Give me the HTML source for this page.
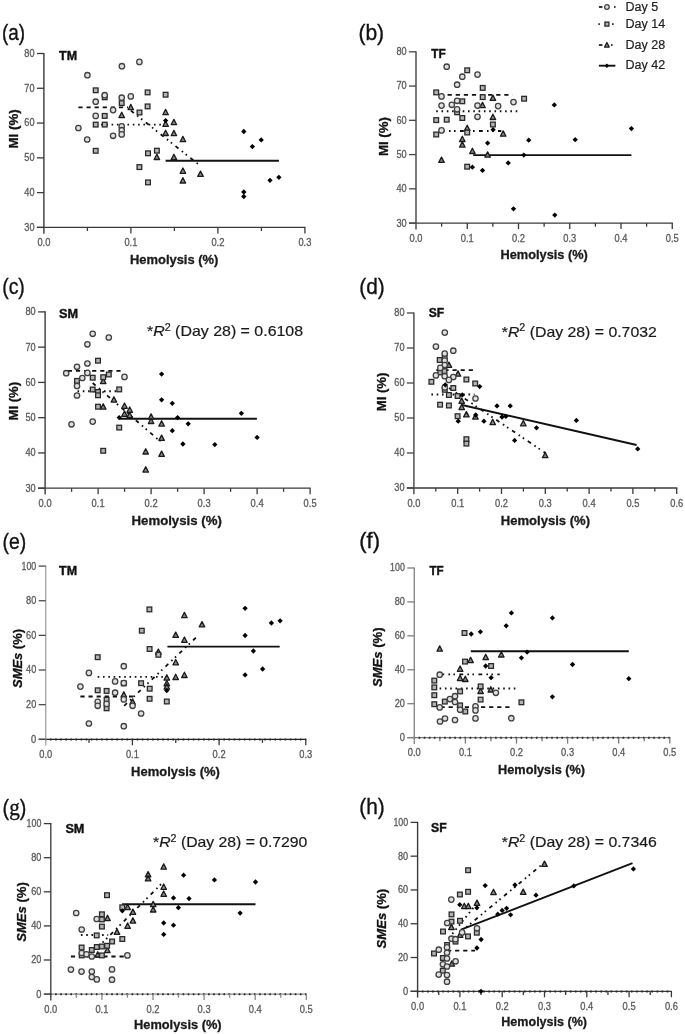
<!DOCTYPE html>
<html><head><meta charset="utf-8"><title>Figure</title>
<style>html,body{margin:0;padding:0;background:#fff;}svg{display:block;will-change:transform;}</style>
</head><body>
<svg width="685" height="1034" viewBox="0 0 685 1034" font-family='"Liberation Sans", sans-serif'>
<rect width="685" height="1034" fill="#fff"/>
<line x1="36.9" y1="227.4" x2="305.5" y2="227.4" stroke="#3a3a3a" stroke-width="1.3"/>
<line x1="43.9" y1="52.9" x2="43.9" y2="233.7" stroke="#3a3a3a" stroke-width="1.4"/>
<line x1="36.9" y1="227.4" x2="43.9" y2="227.4" stroke="#3a3a3a" stroke-width="1.3"/>
<text x="34.5" y="230.8" text-anchor="end" font-size="10.5" fill="#5a5a5a" stroke="#5a5a5a" stroke-width="0.3" textLength="10.2" lengthAdjust="spacingAndGlyphs">30</text>
<line x1="36.9" y1="192.62" x2="43.9" y2="192.62" stroke="#3a3a3a" stroke-width="1.3"/>
<text x="34.5" y="196.02" text-anchor="end" font-size="10.5" fill="#5a5a5a" stroke="#5a5a5a" stroke-width="0.3" textLength="10.2" lengthAdjust="spacingAndGlyphs">40</text>
<line x1="36.9" y1="157.84" x2="43.9" y2="157.84" stroke="#3a3a3a" stroke-width="1.3"/>
<text x="34.5" y="161.24" text-anchor="end" font-size="10.5" fill="#5a5a5a" stroke="#5a5a5a" stroke-width="0.3" textLength="10.2" lengthAdjust="spacingAndGlyphs">50</text>
<line x1="36.9" y1="123.06" x2="43.9" y2="123.06" stroke="#3a3a3a" stroke-width="1.3"/>
<text x="34.5" y="126.46" text-anchor="end" font-size="10.5" fill="#5a5a5a" stroke="#5a5a5a" stroke-width="0.3" textLength="10.2" lengthAdjust="spacingAndGlyphs">60</text>
<line x1="36.9" y1="88.28" x2="43.9" y2="88.28" stroke="#3a3a3a" stroke-width="1.3"/>
<text x="34.5" y="91.68" text-anchor="end" font-size="10.5" fill="#5a5a5a" stroke="#5a5a5a" stroke-width="0.3" textLength="10.2" lengthAdjust="spacingAndGlyphs">70</text>
<line x1="36.9" y1="53.5" x2="43.9" y2="53.5" stroke="#3a3a3a" stroke-width="1.3"/>
<text x="34.5" y="56.9" text-anchor="end" font-size="10.5" fill="#5a5a5a" stroke="#5a5a5a" stroke-width="0.3" textLength="10.2" lengthAdjust="spacingAndGlyphs">80</text>
<line x1="87.4" y1="227.4" x2="87.4" y2="231" stroke="#3a3a3a" stroke-width="1.3"/>
<line x1="130.9" y1="227.4" x2="130.9" y2="233.4" stroke="#3a3a3a" stroke-width="1.3"/>
<line x1="174.4" y1="227.4" x2="174.4" y2="231" stroke="#3a3a3a" stroke-width="1.3"/>
<line x1="217.9" y1="227.4" x2="217.9" y2="233.4" stroke="#3a3a3a" stroke-width="1.3"/>
<line x1="261.4" y1="227.4" x2="261.4" y2="231" stroke="#3a3a3a" stroke-width="1.3"/>
<line x1="304.9" y1="227.4" x2="304.9" y2="233.4" stroke="#3a3a3a" stroke-width="1.3"/>
<text x="43.9" y="245.9" text-anchor="middle" font-size="10.5" fill="#5a5a5a" stroke="#5a5a5a" stroke-width="0.3" textLength="13" lengthAdjust="spacingAndGlyphs">0.0</text>
<text x="130.9" y="245.9" text-anchor="middle" font-size="10.5" fill="#5a5a5a" stroke="#5a5a5a" stroke-width="0.3" textLength="13" lengthAdjust="spacingAndGlyphs">0.1</text>
<text x="217.9" y="245.9" text-anchor="middle" font-size="10.5" fill="#5a5a5a" stroke="#5a5a5a" stroke-width="0.3" textLength="13" lengthAdjust="spacingAndGlyphs">0.2</text>
<text x="304.9" y="245.9" text-anchor="middle" font-size="10.5" fill="#5a5a5a" stroke="#5a5a5a" stroke-width="0.3" textLength="13" lengthAdjust="spacingAndGlyphs">0.3</text>
<line x1="78.4" y1="107.3" x2="128" y2="107.3" stroke="#111" stroke-width="1.8" stroke-dasharray="4.2 3.9"/>
<line x1="95.7" y1="124.6" x2="165.6" y2="124.6" stroke="#111" stroke-width="1.9" stroke-dasharray="1.6 3.7"/>
<line x1="130.9" y1="110.6" x2="200" y2="165.6" stroke="#111" stroke-width="1.8" stroke-dasharray="3.8 4.2 1.6 3.4 1.6 4.4"/>
<line x1="165.6" y1="160.8" x2="278.9" y2="160.8" stroke="#111" stroke-width="1.9"/>
<path d="M121.7 112.3L124.45 117.6L118.95 117.6Z" fill="#858585" stroke="#1a1a1a" stroke-width="1.3" stroke-linejoin="round"/>
<path d="M130.8 104.4L133.55 109.7L128.05 109.7Z" fill="#858585" stroke="#1a1a1a" stroke-width="1.3" stroke-linejoin="round"/>
<path d="M165.6 109.4L168.35 114.7L162.85 114.7Z" fill="#858585" stroke="#1a1a1a" stroke-width="1.3" stroke-linejoin="round"/>
<path d="M165.6 121L168.35 126.3L162.85 126.3Z" fill="#858585" stroke="#1a1a1a" stroke-width="1.3" stroke-linejoin="round"/>
<path d="M173.9 119.4L176.65 124.7L171.15 124.7Z" fill="#858585" stroke="#1a1a1a" stroke-width="1.3" stroke-linejoin="round"/>
<path d="M165.6 130.2L168.35 135.5L162.85 135.5Z" fill="#858585" stroke="#1a1a1a" stroke-width="1.3" stroke-linejoin="round"/>
<path d="M173.9 130.4L176.65 135.7L171.15 135.7Z" fill="#858585" stroke="#1a1a1a" stroke-width="1.3" stroke-linejoin="round"/>
<path d="M182.9 136.4L185.65 141.7L180.15 141.7Z" fill="#858585" stroke="#1a1a1a" stroke-width="1.3" stroke-linejoin="round"/>
<path d="M173.9 154.3L176.65 159.6L171.15 159.6Z" fill="#858585" stroke="#1a1a1a" stroke-width="1.3" stroke-linejoin="round"/>
<path d="M156.9 154.2L159.65 159.5L154.15 159.5Z" fill="#858585" stroke="#1a1a1a" stroke-width="1.3" stroke-linejoin="round"/>
<path d="M182.9 168L185.65 173.3L180.15 173.3Z" fill="#858585" stroke="#1a1a1a" stroke-width="1.3" stroke-linejoin="round"/>
<path d="M182.9 177.7L185.65 183L180.15 183Z" fill="#858585" stroke="#1a1a1a" stroke-width="1.3" stroke-linejoin="round"/>
<path d="M200.5 171.1L203.25 176.4L197.75 176.4Z" fill="#858585" stroke="#1a1a1a" stroke-width="1.3" stroke-linejoin="round"/>
<rect x="93.35" y="87.95" width="4.7" height="4.7" fill="#b4b4b4" stroke="#2a2a2a" stroke-width="1.3"/>
<rect x="102.35" y="94.95" width="4.7" height="4.7" fill="#b4b4b4" stroke="#2a2a2a" stroke-width="1.3"/>
<rect x="145.25" y="90.05" width="4.7" height="4.7" fill="#b4b4b4" stroke="#2a2a2a" stroke-width="1.3"/>
<rect x="163.25" y="92.35" width="4.7" height="4.7" fill="#b4b4b4" stroke="#2a2a2a" stroke-width="1.3"/>
<rect x="119.35" y="100.75" width="4.7" height="4.7" fill="#b4b4b4" stroke="#2a2a2a" stroke-width="1.3"/>
<rect x="145.25" y="104.05" width="4.7" height="4.7" fill="#b4b4b4" stroke="#2a2a2a" stroke-width="1.3"/>
<rect x="102.35" y="113.55" width="4.7" height="4.7" fill="#b4b4b4" stroke="#2a2a2a" stroke-width="1.3"/>
<rect x="137.15" y="110.15" width="4.7" height="4.7" fill="#b4b4b4" stroke="#2a2a2a" stroke-width="1.3"/>
<rect x="93.35" y="122.25" width="4.7" height="4.7" fill="#b4b4b4" stroke="#2a2a2a" stroke-width="1.3"/>
<rect x="102.35" y="122.25" width="4.7" height="4.7" fill="#b4b4b4" stroke="#2a2a2a" stroke-width="1.3"/>
<rect x="93.35" y="148.45" width="4.7" height="4.7" fill="#b4b4b4" stroke="#2a2a2a" stroke-width="1.3"/>
<rect x="145.65" y="150.95" width="4.7" height="4.7" fill="#b4b4b4" stroke="#2a2a2a" stroke-width="1.3"/>
<rect x="154.55" y="148.35" width="4.7" height="4.7" fill="#b4b4b4" stroke="#2a2a2a" stroke-width="1.3"/>
<rect x="137.05" y="164.75" width="4.7" height="4.7" fill="#b4b4b4" stroke="#2a2a2a" stroke-width="1.3"/>
<rect x="145.65" y="180.05" width="4.7" height="4.7" fill="#b4b4b4" stroke="#2a2a2a" stroke-width="1.3"/>
<circle cx="139.4" cy="61.9" r="2.7" fill="#e0e0e0" stroke="#404040" stroke-width="1.3"/>
<circle cx="121.9" cy="66.2" r="2.7" fill="#e0e0e0" stroke="#404040" stroke-width="1.3"/>
<circle cx="87.4" cy="75.2" r="2.7" fill="#e0e0e0" stroke="#404040" stroke-width="1.3"/>
<circle cx="104.7" cy="95.2" r="2.7" fill="#e0e0e0" stroke="#404040" stroke-width="1.3"/>
<circle cx="121.7" cy="97.7" r="2.7" fill="#e0e0e0" stroke="#404040" stroke-width="1.3"/>
<circle cx="130.8" cy="96.4" r="2.7" fill="#e0e0e0" stroke="#404040" stroke-width="1.3"/>
<circle cx="95.7" cy="101.7" r="2.7" fill="#e0e0e0" stroke="#404040" stroke-width="1.3"/>
<circle cx="113.1" cy="110.1" r="2.7" fill="#e0e0e0" stroke="#404040" stroke-width="1.3"/>
<circle cx="95.7" cy="115.9" r="2.7" fill="#e0e0e0" stroke="#404040" stroke-width="1.3"/>
<circle cx="78.4" cy="128" r="2.7" fill="#e0e0e0" stroke="#404040" stroke-width="1.3"/>
<circle cx="121.7" cy="126.4" r="2.7" fill="#e0e0e0" stroke="#404040" stroke-width="1.3"/>
<circle cx="121.7" cy="130.2" r="2.7" fill="#e0e0e0" stroke="#404040" stroke-width="1.3"/>
<circle cx="121.7" cy="134.4" r="2.7" fill="#e0e0e0" stroke="#404040" stroke-width="1.3"/>
<circle cx="113.1" cy="135.8" r="2.7" fill="#e0e0e0" stroke="#404040" stroke-width="1.3"/>
<circle cx="87.2" cy="139.5" r="2.7" fill="#e0e0e0" stroke="#404040" stroke-width="1.3"/>
<path d="M165.6 117.95L168.25 120.6L165.6 123.25L162.95 120.6Z" fill="#000"/>
<path d="M243.8 128.85L246.45 131.5L243.8 134.15L241.15 131.5Z" fill="#000"/>
<path d="M261.2 137.25L263.85 139.9L261.2 142.55L258.55 139.9Z" fill="#000"/>
<path d="M252.4 143.95L255.05 146.6L252.4 149.25L249.75 146.6Z" fill="#000"/>
<path d="M270 177.65L272.65 180.3L270 182.95L267.35 180.3Z" fill="#000"/>
<path d="M278.9 174.65L281.55 177.3L278.9 179.95L276.25 177.3Z" fill="#000"/>
<path d="M243.8 189.35L246.45 192L243.8 194.65L241.15 192Z" fill="#000"/>
<path d="M243.8 193.85L246.45 196.5L243.8 199.15L241.15 196.5Z" fill="#000"/>
<text x="2" y="40.28" font-size="21.5" fill="#111" stroke="#111" stroke-width="0.35" textLength="23.1" lengthAdjust="spacingAndGlyphs">(a)</text>
<text x="59.1" y="59.7" font-size="12.5" font-weight="bold" fill="#111" stroke="#111" stroke-width="0.4" textLength="18" lengthAdjust="spacingAndGlyphs">TM</text>
<text transform="translate(17.5,128.9) rotate(-90)" x="0" y="0" text-anchor="middle" font-size="13" font-weight="bold" fill="#111" stroke="#111" stroke-width="0.3" textLength="39.1" lengthAdjust="spacingAndGlyphs"><tspan >MI</tspan> (%)</text>
<text x="130" y="263.8" font-size="12.8" font-weight="bold" fill="#1a1a1a" stroke="#1a1a1a" stroke-width="0.3" textLength="88.3" lengthAdjust="spacingAndGlyphs">Hemolysis (%)</text>
<line x1="409" y1="223.1" x2="672.85" y2="223.1" stroke="#3a3a3a" stroke-width="1.3"/>
<line x1="416" y1="51.2" x2="416" y2="229.4" stroke="#444" stroke-width="1.4"/>
<line x1="409" y1="223.1" x2="416" y2="223.1" stroke="#444" stroke-width="1.3"/>
<text x="406.6" y="226.5" text-anchor="end" font-size="10.5" fill="#5a5a5a" stroke="#5a5a5a" stroke-width="0.3" textLength="10.2" lengthAdjust="spacingAndGlyphs">30</text>
<line x1="409" y1="188.84" x2="416" y2="188.84" stroke="#444" stroke-width="1.3"/>
<text x="406.6" y="192.24" text-anchor="end" font-size="10.5" fill="#5a5a5a" stroke="#5a5a5a" stroke-width="0.3" textLength="10.2" lengthAdjust="spacingAndGlyphs">40</text>
<line x1="409" y1="154.58" x2="416" y2="154.58" stroke="#444" stroke-width="1.3"/>
<text x="406.6" y="157.98" text-anchor="end" font-size="10.5" fill="#5a5a5a" stroke="#5a5a5a" stroke-width="0.3" textLength="10.2" lengthAdjust="spacingAndGlyphs">50</text>
<line x1="409" y1="120.32" x2="416" y2="120.32" stroke="#444" stroke-width="1.3"/>
<text x="406.6" y="123.72" text-anchor="end" font-size="10.5" fill="#5a5a5a" stroke="#5a5a5a" stroke-width="0.3" textLength="10.2" lengthAdjust="spacingAndGlyphs">60</text>
<line x1="409" y1="86.06" x2="416" y2="86.06" stroke="#444" stroke-width="1.3"/>
<text x="406.6" y="89.46" text-anchor="end" font-size="10.5" fill="#5a5a5a" stroke="#5a5a5a" stroke-width="0.3" textLength="10.2" lengthAdjust="spacingAndGlyphs">70</text>
<line x1="409" y1="51.8" x2="416" y2="51.8" stroke="#444" stroke-width="1.3"/>
<text x="406.6" y="55.2" text-anchor="end" font-size="10.5" fill="#5a5a5a" stroke="#5a5a5a" stroke-width="0.3" textLength="10.2" lengthAdjust="spacingAndGlyphs">80</text>
<line x1="441.62" y1="223.1" x2="441.62" y2="226.7" stroke="#3a3a3a" stroke-width="1.3"/>
<line x1="467.25" y1="223.1" x2="467.25" y2="229.1" stroke="#3a3a3a" stroke-width="1.3"/>
<line x1="492.88" y1="223.1" x2="492.88" y2="226.7" stroke="#3a3a3a" stroke-width="1.3"/>
<line x1="518.5" y1="223.1" x2="518.5" y2="229.1" stroke="#3a3a3a" stroke-width="1.3"/>
<line x1="544.12" y1="223.1" x2="544.12" y2="226.7" stroke="#3a3a3a" stroke-width="1.3"/>
<line x1="569.75" y1="223.1" x2="569.75" y2="229.1" stroke="#3a3a3a" stroke-width="1.3"/>
<line x1="595.38" y1="223.1" x2="595.38" y2="226.7" stroke="#3a3a3a" stroke-width="1.3"/>
<line x1="621" y1="223.1" x2="621" y2="229.1" stroke="#3a3a3a" stroke-width="1.3"/>
<line x1="646.62" y1="223.1" x2="646.62" y2="226.7" stroke="#3a3a3a" stroke-width="1.3"/>
<line x1="672.25" y1="223.1" x2="672.25" y2="229.1" stroke="#3a3a3a" stroke-width="1.3"/>
<text x="416" y="241.6" text-anchor="middle" font-size="10.5" fill="#5a5a5a" stroke="#5a5a5a" stroke-width="0.3" textLength="13" lengthAdjust="spacingAndGlyphs">0.0</text>
<text x="467.25" y="241.6" text-anchor="middle" font-size="10.5" fill="#5a5a5a" stroke="#5a5a5a" stroke-width="0.3" textLength="13" lengthAdjust="spacingAndGlyphs">0.1</text>
<text x="518.5" y="241.6" text-anchor="middle" font-size="10.5" fill="#5a5a5a" stroke="#5a5a5a" stroke-width="0.3" textLength="13" lengthAdjust="spacingAndGlyphs">0.2</text>
<text x="569.75" y="241.6" text-anchor="middle" font-size="10.5" fill="#5a5a5a" stroke="#5a5a5a" stroke-width="0.3" textLength="13" lengthAdjust="spacingAndGlyphs">0.3</text>
<text x="621" y="241.6" text-anchor="middle" font-size="10.5" fill="#5a5a5a" stroke="#5a5a5a" stroke-width="0.3" textLength="13" lengthAdjust="spacingAndGlyphs">0.4</text>
<text x="672.25" y="241.6" text-anchor="middle" font-size="10.5" fill="#5a5a5a" stroke="#5a5a5a" stroke-width="0.3" textLength="13" lengthAdjust="spacingAndGlyphs">0.5</text>
<line x1="439.5" y1="94.8" x2="512.5" y2="94.8" stroke="#111" stroke-width="1.8" stroke-dasharray="4.2 3.9"/>
<line x1="436.2" y1="111.2" x2="519.7" y2="111.2" stroke="#111" stroke-width="1.9" stroke-dasharray="1.6 3.7"/>
<line x1="441" y1="131" x2="501.3" y2="131" stroke="#111" stroke-width="1.8" stroke-dasharray="3.8 4.2 1.6 3.4 1.6 4.4"/>
<line x1="473.2" y1="155.1" x2="631.4" y2="155.1" stroke="#111" stroke-width="1.9"/>
<path d="M492.9 95.1L495.65 100.4L490.15 100.4Z" fill="#858585" stroke="#1a1a1a" stroke-width="1.3" stroke-linejoin="round"/>
<path d="M482.5 102.4L485.25 107.7L479.75 107.7Z" fill="#858585" stroke="#1a1a1a" stroke-width="1.3" stroke-linejoin="round"/>
<path d="M492.9 114.2L495.65 119.5L490.15 119.5Z" fill="#858585" stroke="#1a1a1a" stroke-width="1.3" stroke-linejoin="round"/>
<path d="M467.2 125.2L469.95 130.5L464.45 130.5Z" fill="#858585" stroke="#1a1a1a" stroke-width="1.3" stroke-linejoin="round"/>
<path d="M503.2 130.9L505.95 136.2L500.45 136.2Z" fill="#858585" stroke="#1a1a1a" stroke-width="1.3" stroke-linejoin="round"/>
<path d="M462.3 136.2L465.05 141.5L459.55 141.5Z" fill="#858585" stroke="#1a1a1a" stroke-width="1.3" stroke-linejoin="round"/>
<path d="M462.3 141.8L465.05 147.1L459.55 147.1Z" fill="#858585" stroke="#1a1a1a" stroke-width="1.3" stroke-linejoin="round"/>
<path d="M472.4 148.2L475.15 153.5L469.65 153.5Z" fill="#858585" stroke="#1a1a1a" stroke-width="1.3" stroke-linejoin="round"/>
<path d="M487.6 151.9L490.35 157.2L484.85 157.2Z" fill="#858585" stroke="#1a1a1a" stroke-width="1.3" stroke-linejoin="round"/>
<path d="M441.5 157.1L444.25 162.4L438.75 162.4Z" fill="#858585" stroke="#1a1a1a" stroke-width="1.3" stroke-linejoin="round"/>
<rect x="464.85" y="67.95" width="4.7" height="4.7" fill="#b4b4b4" stroke="#2a2a2a" stroke-width="1.3"/>
<rect x="480.35" y="85.55" width="4.7" height="4.7" fill="#b4b4b4" stroke="#2a2a2a" stroke-width="1.3"/>
<rect x="433.85" y="90.05" width="4.7" height="4.7" fill="#b4b4b4" stroke="#2a2a2a" stroke-width="1.3"/>
<rect x="480.35" y="94.75" width="4.7" height="4.7" fill="#b4b4b4" stroke="#2a2a2a" stroke-width="1.3"/>
<rect x="459.95" y="98.95" width="4.7" height="4.7" fill="#b4b4b4" stroke="#2a2a2a" stroke-width="1.3"/>
<rect x="521.75" y="96.35" width="4.7" height="4.7" fill="#b4b4b4" stroke="#2a2a2a" stroke-width="1.3"/>
<rect x="433.85" y="117.75" width="4.7" height="4.7" fill="#b4b4b4" stroke="#2a2a2a" stroke-width="1.3"/>
<rect x="444.35" y="117.35" width="4.7" height="4.7" fill="#b4b4b4" stroke="#2a2a2a" stroke-width="1.3"/>
<rect x="459.95" y="115.65" width="4.7" height="4.7" fill="#b4b4b4" stroke="#2a2a2a" stroke-width="1.3"/>
<rect x="454.75" y="109.95" width="4.7" height="4.7" fill="#b4b4b4" stroke="#2a2a2a" stroke-width="1.3"/>
<rect x="490.55" y="122.15" width="4.7" height="4.7" fill="#b4b4b4" stroke="#2a2a2a" stroke-width="1.3"/>
<rect x="464.85" y="130.15" width="4.7" height="4.7" fill="#b4b4b4" stroke="#2a2a2a" stroke-width="1.3"/>
<rect x="433.85" y="132.15" width="4.7" height="4.7" fill="#b4b4b4" stroke="#2a2a2a" stroke-width="1.3"/>
<rect x="464.85" y="164.35" width="4.7" height="4.7" fill="#b4b4b4" stroke="#2a2a2a" stroke-width="1.3"/>
<circle cx="446.7" cy="66.7" r="2.7" fill="#e0e0e0" stroke="#404040" stroke-width="1.3"/>
<circle cx="462.3" cy="76.7" r="2.7" fill="#e0e0e0" stroke="#404040" stroke-width="1.3"/>
<circle cx="477.5" cy="74.6" r="2.7" fill="#e0e0e0" stroke="#404040" stroke-width="1.3"/>
<circle cx="457.1" cy="84.7" r="2.7" fill="#e0e0e0" stroke="#404040" stroke-width="1.3"/>
<circle cx="441.5" cy="96.4" r="2.7" fill="#e0e0e0" stroke="#404040" stroke-width="1.3"/>
<circle cx="457.1" cy="100.8" r="2.7" fill="#e0e0e0" stroke="#404040" stroke-width="1.3"/>
<circle cx="441.5" cy="105.6" r="2.7" fill="#e0e0e0" stroke="#404040" stroke-width="1.3"/>
<circle cx="451.8" cy="104.8" r="2.7" fill="#e0e0e0" stroke="#404040" stroke-width="1.3"/>
<circle cx="477.5" cy="105.6" r="2.7" fill="#e0e0e0" stroke="#404040" stroke-width="1.3"/>
<circle cx="498.1" cy="106.1" r="2.7" fill="#e0e0e0" stroke="#404040" stroke-width="1.3"/>
<circle cx="513.5" cy="102.1" r="2.7" fill="#e0e0e0" stroke="#404040" stroke-width="1.3"/>
<circle cx="457.1" cy="109.3" r="2.7" fill="#e0e0e0" stroke="#404040" stroke-width="1.3"/>
<circle cx="477.5" cy="116.8" r="2.7" fill="#e0e0e0" stroke="#404040" stroke-width="1.3"/>
<circle cx="441.5" cy="130.4" r="2.7" fill="#e0e0e0" stroke="#404040" stroke-width="1.3"/>
<path d="M493.1 127.05L495.75 129.7L493.1 132.35L490.45 129.7Z" fill="#000"/>
<path d="M487.6 140.45L490.25 143.1L487.6 145.75L484.95 143.1Z" fill="#000"/>
<path d="M528.7 137.55L531.35 140.2L528.7 142.85L526.05 140.2Z" fill="#000"/>
<path d="M523.8 152.45L526.45 155.1L523.8 157.75L521.15 155.1Z" fill="#000"/>
<path d="M508.2 160.25L510.85 162.9L508.2 165.55L505.55 162.9Z" fill="#000"/>
<path d="M472.4 164.55L475.05 167.2L472.4 169.85L469.75 167.2Z" fill="#000"/>
<path d="M482.5 167.75L485.15 170.4L482.5 173.05L479.85 170.4Z" fill="#000"/>
<path d="M554.3 102.25L556.95 104.9L554.3 107.55L551.65 104.9Z" fill="#000"/>
<path d="M631.4 125.95L634.05 128.6L631.4 131.25L628.75 128.6Z" fill="#000"/>
<path d="M575.2 137.05L577.85 139.7L575.2 142.35L572.55 139.7Z" fill="#000"/>
<path d="M513.5 206.15L516.15 208.8L513.5 211.45L510.85 208.8Z" fill="#000"/>
<path d="M554.8 212.45L557.45 215.1L554.8 217.75L552.15 215.1Z" fill="#000"/>
<text x="358.4" y="40.28" font-size="21.5" fill="#111" stroke="#111" stroke-width="0.35" textLength="25.7" lengthAdjust="spacingAndGlyphs">(b)</text>
<text x="431.3" y="57.7" font-size="12.5" font-weight="bold" fill="#111" stroke="#111" stroke-width="0.4" textLength="14.5" lengthAdjust="spacingAndGlyphs">TF</text>
<text transform="translate(388.3,136.6) rotate(-90)" x="0" y="0" text-anchor="middle" font-size="13" font-weight="bold" fill="#111" stroke="#111" stroke-width="0.3" textLength="39" lengthAdjust="spacingAndGlyphs"><tspan >MI</tspan> (%)</text>
<text x="500.5" y="258.9" font-size="12.8" font-weight="bold" fill="#1a1a1a" stroke="#1a1a1a" stroke-width="0.3" textLength="87.3" lengthAdjust="spacingAndGlyphs">Hemolysis (%)</text>
<line x1="38.1" y1="488.2" x2="310.7" y2="488.2" stroke="#3a3a3a" stroke-width="1.3"/>
<line x1="45.1" y1="311.3" x2="45.1" y2="494.5" stroke="#3a3a3a" stroke-width="1.4"/>
<line x1="38.1" y1="488.2" x2="45.1" y2="488.2" stroke="#3a3a3a" stroke-width="1.3"/>
<text x="35.7" y="491.6" text-anchor="end" font-size="10.5" fill="#5a5a5a" stroke="#5a5a5a" stroke-width="0.3" textLength="10.2" lengthAdjust="spacingAndGlyphs">30</text>
<line x1="38.1" y1="452.94" x2="45.1" y2="452.94" stroke="#3a3a3a" stroke-width="1.3"/>
<text x="35.7" y="456.34" text-anchor="end" font-size="10.5" fill="#5a5a5a" stroke="#5a5a5a" stroke-width="0.3" textLength="10.2" lengthAdjust="spacingAndGlyphs">40</text>
<line x1="38.1" y1="417.68" x2="45.1" y2="417.68" stroke="#3a3a3a" stroke-width="1.3"/>
<text x="35.7" y="421.08" text-anchor="end" font-size="10.5" fill="#5a5a5a" stroke="#5a5a5a" stroke-width="0.3" textLength="10.2" lengthAdjust="spacingAndGlyphs">50</text>
<line x1="38.1" y1="382.42" x2="45.1" y2="382.42" stroke="#3a3a3a" stroke-width="1.3"/>
<text x="35.7" y="385.82" text-anchor="end" font-size="10.5" fill="#5a5a5a" stroke="#5a5a5a" stroke-width="0.3" textLength="10.2" lengthAdjust="spacingAndGlyphs">60</text>
<line x1="38.1" y1="347.16" x2="45.1" y2="347.16" stroke="#3a3a3a" stroke-width="1.3"/>
<text x="35.7" y="350.56" text-anchor="end" font-size="10.5" fill="#5a5a5a" stroke="#5a5a5a" stroke-width="0.3" textLength="10.2" lengthAdjust="spacingAndGlyphs">70</text>
<line x1="38.1" y1="311.9" x2="45.1" y2="311.9" stroke="#3a3a3a" stroke-width="1.3"/>
<text x="35.7" y="315.3" text-anchor="end" font-size="10.5" fill="#5a5a5a" stroke="#5a5a5a" stroke-width="0.3" textLength="10.2" lengthAdjust="spacingAndGlyphs">80</text>
<line x1="71.6" y1="488.2" x2="71.6" y2="491.8" stroke="#3a3a3a" stroke-width="1.3"/>
<line x1="98.1" y1="488.2" x2="98.1" y2="494.2" stroke="#3a3a3a" stroke-width="1.3"/>
<line x1="124.6" y1="488.2" x2="124.6" y2="491.8" stroke="#3a3a3a" stroke-width="1.3"/>
<line x1="151.1" y1="488.2" x2="151.1" y2="494.2" stroke="#3a3a3a" stroke-width="1.3"/>
<line x1="177.6" y1="488.2" x2="177.6" y2="491.8" stroke="#3a3a3a" stroke-width="1.3"/>
<line x1="204.1" y1="488.2" x2="204.1" y2="494.2" stroke="#3a3a3a" stroke-width="1.3"/>
<line x1="230.6" y1="488.2" x2="230.6" y2="491.8" stroke="#3a3a3a" stroke-width="1.3"/>
<line x1="257.1" y1="488.2" x2="257.1" y2="494.2" stroke="#3a3a3a" stroke-width="1.3"/>
<line x1="283.6" y1="488.2" x2="283.6" y2="491.8" stroke="#3a3a3a" stroke-width="1.3"/>
<line x1="310.1" y1="488.2" x2="310.1" y2="494.2" stroke="#3a3a3a" stroke-width="1.3"/>
<text x="45.1" y="506.7" text-anchor="middle" font-size="10.5" fill="#5a5a5a" stroke="#5a5a5a" stroke-width="0.3" textLength="13" lengthAdjust="spacingAndGlyphs">0.0</text>
<text x="98.1" y="506.7" text-anchor="middle" font-size="10.5" fill="#5a5a5a" stroke="#5a5a5a" stroke-width="0.3" textLength="13" lengthAdjust="spacingAndGlyphs">0.1</text>
<text x="151.1" y="506.7" text-anchor="middle" font-size="10.5" fill="#5a5a5a" stroke="#5a5a5a" stroke-width="0.3" textLength="13" lengthAdjust="spacingAndGlyphs">0.2</text>
<text x="204.1" y="506.7" text-anchor="middle" font-size="10.5" fill="#5a5a5a" stroke="#5a5a5a" stroke-width="0.3" textLength="13" lengthAdjust="spacingAndGlyphs">0.3</text>
<text x="257.1" y="506.7" text-anchor="middle" font-size="10.5" fill="#5a5a5a" stroke="#5a5a5a" stroke-width="0.3" textLength="13" lengthAdjust="spacingAndGlyphs">0.4</text>
<text x="310.1" y="506.7" text-anchor="middle" font-size="10.5" fill="#5a5a5a" stroke="#5a5a5a" stroke-width="0.3" textLength="13" lengthAdjust="spacingAndGlyphs">0.5</text>
<line x1="67.8" y1="370.8" x2="124" y2="370.8" stroke="#111" stroke-width="1.8" stroke-dasharray="4.2 3.9"/>
<line x1="77.5" y1="391.2" x2="116" y2="391.2" stroke="#111" stroke-width="1.9" stroke-dasharray="1.6 3.7"/>
<line x1="92.7" y1="383" x2="160.4" y2="441.5" stroke="#111" stroke-width="1.8" stroke-dasharray="3.8 4.2 1.6 3.4 1.6 4.4"/>
<line x1="119.2" y1="418.7" x2="256.9" y2="418.7" stroke="#111" stroke-width="1.9"/>
<path d="M103.2 378.3L105.95 383.6L100.45 383.6Z" fill="#858585" stroke="#1a1a1a" stroke-width="1.3" stroke-linejoin="round"/>
<path d="M113.9 396.8L116.65 402.1L111.15 402.1Z" fill="#858585" stroke="#1a1a1a" stroke-width="1.3" stroke-linejoin="round"/>
<path d="M103.2 403.8L105.95 409.1L100.45 409.1Z" fill="#858585" stroke="#1a1a1a" stroke-width="1.3" stroke-linejoin="round"/>
<path d="M124.5 403L127.25 408.3L121.75 408.3Z" fill="#858585" stroke="#1a1a1a" stroke-width="1.3" stroke-linejoin="round"/>
<path d="M129.7 407L132.45 412.3L126.95 412.3Z" fill="#858585" stroke="#1a1a1a" stroke-width="1.3" stroke-linejoin="round"/>
<path d="M124.5 411L127.25 416.3L121.75 416.3Z" fill="#858585" stroke="#1a1a1a" stroke-width="1.3" stroke-linejoin="round"/>
<path d="M129.7 412.3L132.45 417.6L126.95 417.6Z" fill="#858585" stroke="#1a1a1a" stroke-width="1.3" stroke-linejoin="round"/>
<path d="M151.1 413.9L153.85 419.2L148.35 419.2Z" fill="#858585" stroke="#1a1a1a" stroke-width="1.3" stroke-linejoin="round"/>
<path d="M151.1 418.2L153.85 423.5L148.35 423.5Z" fill="#858585" stroke="#1a1a1a" stroke-width="1.3" stroke-linejoin="round"/>
<path d="M161.6 420.8L164.35 426.1L158.85 426.1Z" fill="#858585" stroke="#1a1a1a" stroke-width="1.3" stroke-linejoin="round"/>
<path d="M161.6 435.1L164.35 440.4L158.85 440.4Z" fill="#858585" stroke="#1a1a1a" stroke-width="1.3" stroke-linejoin="round"/>
<path d="M145.7 448.7L148.45 454L142.95 454Z" fill="#858585" stroke="#1a1a1a" stroke-width="1.3" stroke-linejoin="round"/>
<path d="M161.6 451.1L164.35 456.4L158.85 456.4Z" fill="#858585" stroke="#1a1a1a" stroke-width="1.3" stroke-linejoin="round"/>
<path d="M145.7 466.8L148.45 472.1L142.95 472.1Z" fill="#858585" stroke="#1a1a1a" stroke-width="1.3" stroke-linejoin="round"/>
<rect x="95.65" y="358.35" width="4.7" height="4.7" fill="#b4b4b4" stroke="#2a2a2a" stroke-width="1.3"/>
<rect x="90.35" y="375.35" width="4.7" height="4.7" fill="#b4b4b4" stroke="#2a2a2a" stroke-width="1.3"/>
<rect x="100.85" y="374.85" width="4.7" height="4.7" fill="#b4b4b4" stroke="#2a2a2a" stroke-width="1.3"/>
<rect x="106.45" y="372.15" width="4.7" height="4.7" fill="#b4b4b4" stroke="#2a2a2a" stroke-width="1.3"/>
<rect x="74.65" y="378.55" width="4.7" height="4.7" fill="#b4b4b4" stroke="#2a2a2a" stroke-width="1.3"/>
<rect x="90.35" y="387.15" width="4.7" height="4.7" fill="#b4b4b4" stroke="#2a2a2a" stroke-width="1.3"/>
<rect x="95.65" y="389.65" width="4.7" height="4.7" fill="#b4b4b4" stroke="#2a2a2a" stroke-width="1.3"/>
<rect x="95.65" y="392.95" width="4.7" height="4.7" fill="#b4b4b4" stroke="#2a2a2a" stroke-width="1.3"/>
<rect x="116.85" y="387.05" width="4.7" height="4.7" fill="#b4b4b4" stroke="#2a2a2a" stroke-width="1.3"/>
<rect x="95.65" y="404.35" width="4.7" height="4.7" fill="#b4b4b4" stroke="#2a2a2a" stroke-width="1.3"/>
<rect x="116.85" y="425.25" width="4.7" height="4.7" fill="#b4b4b4" stroke="#2a2a2a" stroke-width="1.3"/>
<rect x="100.85" y="448.45" width="4.7" height="4.7" fill="#b4b4b4" stroke="#2a2a2a" stroke-width="1.3"/>
<circle cx="92.7" cy="333.8" r="2.7" fill="#e0e0e0" stroke="#404040" stroke-width="1.3"/>
<circle cx="108.8" cy="337.5" r="2.7" fill="#e0e0e0" stroke="#404040" stroke-width="1.3"/>
<circle cx="87.4" cy="344.3" r="2.7" fill="#e0e0e0" stroke="#404040" stroke-width="1.3"/>
<circle cx="87.4" cy="363.5" r="2.7" fill="#e0e0e0" stroke="#404040" stroke-width="1.3"/>
<circle cx="77" cy="366.8" r="2.7" fill="#e0e0e0" stroke="#404040" stroke-width="1.3"/>
<circle cx="66.2" cy="373.2" r="2.7" fill="#e0e0e0" stroke="#404040" stroke-width="1.3"/>
<circle cx="87.4" cy="372.9" r="2.7" fill="#e0e0e0" stroke="#404040" stroke-width="1.3"/>
<circle cx="82.3" cy="378" r="2.7" fill="#e0e0e0" stroke="#404040" stroke-width="1.3"/>
<circle cx="124.5" cy="376.9" r="2.7" fill="#e0e0e0" stroke="#404040" stroke-width="1.3"/>
<circle cx="77" cy="386" r="2.7" fill="#e0e0e0" stroke="#404040" stroke-width="1.3"/>
<circle cx="77" cy="395.5" r="2.7" fill="#e0e0e0" stroke="#404040" stroke-width="1.3"/>
<circle cx="71.5" cy="424.3" r="2.7" fill="#e0e0e0" stroke="#404040" stroke-width="1.3"/>
<circle cx="92.7" cy="421.6" r="2.7" fill="#e0e0e0" stroke="#404040" stroke-width="1.3"/>
<path d="M161.6 371.45L164.25 374.1L161.6 376.75L158.95 374.1Z" fill="#000"/>
<path d="M161.6 397.15L164.25 399.8L161.6 402.45L158.95 399.8Z" fill="#000"/>
<path d="M172.3 400.65L174.95 403.3L172.3 405.95L169.65 403.3Z" fill="#000"/>
<path d="M177.6 414.95L180.25 417.6L177.6 420.25L174.95 417.6Z" fill="#000"/>
<path d="M188.2 421.15L190.85 423.8L188.2 426.45L185.55 423.8Z" fill="#000"/>
<path d="M172.3 428.05L174.95 430.7L172.3 433.35L169.65 430.7Z" fill="#000"/>
<path d="M182.9 441.35L185.55 444L182.9 446.65L180.25 444Z" fill="#000"/>
<path d="M214.8 441.95L217.45 444.6L214.8 447.25L212.15 444.6Z" fill="#000"/>
<path d="M241.4 410.65L244.05 413.3L241.4 415.95L238.75 413.3Z" fill="#000"/>
<path d="M257.1 434.75L259.75 437.4L257.1 440.05L254.45 437.4Z" fill="#000"/>
<path d="M119.2 414.95L121.85 417.6L119.2 420.25L116.55 417.6Z" fill="#000"/>
<text x="2.2" y="293.88" font-size="21.5" fill="#111" stroke="#111" stroke-width="0.35" textLength="22.6" lengthAdjust="spacingAndGlyphs">(c)</text>
<text x="59.1" y="318.3" font-size="12.5" font-weight="bold" fill="#111" stroke="#111" stroke-width="0.4" textLength="19" lengthAdjust="spacingAndGlyphs">SM</text>
<text transform="translate(17.6,401.2) rotate(-90)" x="0" y="0" text-anchor="middle" font-size="13" font-weight="bold" fill="#111" stroke="#111" stroke-width="0.3" textLength="38.5" lengthAdjust="spacingAndGlyphs"><tspan >MI</tspan> (%)</text>
<text x="131.5" y="525.1" font-size="12.8" font-weight="bold" fill="#1a1a1a" stroke="#1a1a1a" stroke-width="0.3" textLength="90.3" lengthAdjust="spacingAndGlyphs">Hemolysis (%)</text>
<text x="147" y="336.1" font-size="14.8" fill="#1a1a1a" stroke="#1a1a1a" stroke-width="0.2" textLength="156.1" lengthAdjust="spacingAndGlyphs">*<tspan font-style="italic">R</tspan><tspan font-size="10" dy="-5.5">2</tspan><tspan dy="5.5"> (Day 28) = 0.6108</tspan></text>
<line x1="406.9" y1="488" x2="677.3" y2="488" stroke="#3a3a3a" stroke-width="1.3"/>
<line x1="413.9" y1="312.4" x2="413.9" y2="494.3" stroke="#444" stroke-width="1.4"/>
<line x1="406.9" y1="488" x2="413.9" y2="488" stroke="#444" stroke-width="1.3"/>
<text x="404.5" y="491.4" text-anchor="end" font-size="10.5" fill="#5a5a5a" stroke="#5a5a5a" stroke-width="0.3" textLength="10.2" lengthAdjust="spacingAndGlyphs">30</text>
<line x1="406.9" y1="453" x2="413.9" y2="453" stroke="#444" stroke-width="1.3"/>
<text x="404.5" y="456.4" text-anchor="end" font-size="10.5" fill="#5a5a5a" stroke="#5a5a5a" stroke-width="0.3" textLength="10.2" lengthAdjust="spacingAndGlyphs">40</text>
<line x1="406.9" y1="418" x2="413.9" y2="418" stroke="#444" stroke-width="1.3"/>
<text x="404.5" y="421.4" text-anchor="end" font-size="10.5" fill="#5a5a5a" stroke="#5a5a5a" stroke-width="0.3" textLength="10.2" lengthAdjust="spacingAndGlyphs">50</text>
<line x1="406.9" y1="383" x2="413.9" y2="383" stroke="#444" stroke-width="1.3"/>
<text x="404.5" y="386.4" text-anchor="end" font-size="10.5" fill="#5a5a5a" stroke="#5a5a5a" stroke-width="0.3" textLength="10.2" lengthAdjust="spacingAndGlyphs">60</text>
<line x1="406.9" y1="348" x2="413.9" y2="348" stroke="#444" stroke-width="1.3"/>
<text x="404.5" y="351.4" text-anchor="end" font-size="10.5" fill="#5a5a5a" stroke="#5a5a5a" stroke-width="0.3" textLength="10.2" lengthAdjust="spacingAndGlyphs">70</text>
<line x1="406.9" y1="313" x2="413.9" y2="313" stroke="#444" stroke-width="1.3"/>
<text x="404.5" y="316.4" text-anchor="end" font-size="10.5" fill="#5a5a5a" stroke="#5a5a5a" stroke-width="0.3" textLength="10.2" lengthAdjust="spacingAndGlyphs">80</text>
<line x1="435.8" y1="488" x2="435.8" y2="491.6" stroke="#3a3a3a" stroke-width="1.3"/>
<line x1="457.7" y1="488" x2="457.7" y2="494" stroke="#3a3a3a" stroke-width="1.3"/>
<line x1="479.6" y1="488" x2="479.6" y2="491.6" stroke="#3a3a3a" stroke-width="1.3"/>
<line x1="501.5" y1="488" x2="501.5" y2="494" stroke="#3a3a3a" stroke-width="1.3"/>
<line x1="523.4" y1="488" x2="523.4" y2="491.6" stroke="#3a3a3a" stroke-width="1.3"/>
<line x1="545.3" y1="488" x2="545.3" y2="494" stroke="#3a3a3a" stroke-width="1.3"/>
<line x1="567.2" y1="488" x2="567.2" y2="491.6" stroke="#3a3a3a" stroke-width="1.3"/>
<line x1="589.1" y1="488" x2="589.1" y2="494" stroke="#3a3a3a" stroke-width="1.3"/>
<line x1="611" y1="488" x2="611" y2="491.6" stroke="#3a3a3a" stroke-width="1.3"/>
<line x1="632.9" y1="488" x2="632.9" y2="494" stroke="#3a3a3a" stroke-width="1.3"/>
<line x1="654.8" y1="488" x2="654.8" y2="491.6" stroke="#3a3a3a" stroke-width="1.3"/>
<line x1="676.7" y1="488" x2="676.7" y2="494" stroke="#3a3a3a" stroke-width="1.3"/>
<text x="413.9" y="506.5" text-anchor="middle" font-size="10.5" fill="#5a5a5a" stroke="#5a5a5a" stroke-width="0.3" textLength="13" lengthAdjust="spacingAndGlyphs">0.0</text>
<text x="457.7" y="506.5" text-anchor="middle" font-size="10.5" fill="#5a5a5a" stroke="#5a5a5a" stroke-width="0.3" textLength="13" lengthAdjust="spacingAndGlyphs">0.1</text>
<text x="501.5" y="506.5" text-anchor="middle" font-size="10.5" fill="#5a5a5a" stroke="#5a5a5a" stroke-width="0.3" textLength="13" lengthAdjust="spacingAndGlyphs">0.2</text>
<text x="545.3" y="506.5" text-anchor="middle" font-size="10.5" fill="#5a5a5a" stroke="#5a5a5a" stroke-width="0.3" textLength="13" lengthAdjust="spacingAndGlyphs">0.3</text>
<text x="589.1" y="506.5" text-anchor="middle" font-size="10.5" fill="#5a5a5a" stroke="#5a5a5a" stroke-width="0.3" textLength="13" lengthAdjust="spacingAndGlyphs">0.4</text>
<text x="632.9" y="506.5" text-anchor="middle" font-size="10.5" fill="#5a5a5a" stroke="#5a5a5a" stroke-width="0.3" textLength="13" lengthAdjust="spacingAndGlyphs">0.5</text>
<text x="676.7" y="506.5" text-anchor="middle" font-size="10.5" fill="#5a5a5a" stroke="#5a5a5a" stroke-width="0.3" textLength="13" lengthAdjust="spacingAndGlyphs">0.6</text>
<line x1="436.3" y1="370.2" x2="474.5" y2="370.2" stroke="#111" stroke-width="1.8" stroke-dasharray="4.2 3.9"/>
<line x1="431.4" y1="394.5" x2="474.6" y2="394.5" stroke="#111" stroke-width="1.9" stroke-dasharray="1.6 3.7"/>
<line x1="449" y1="388" x2="545.4" y2="453" stroke="#111" stroke-width="1.8" stroke-dasharray="3.8 4.2 1.6 3.4 1.6 4.4"/>
<line x1="462" y1="405" x2="636.6" y2="445" stroke="#111" stroke-width="1.9"/>
<path d="M448.9 362.1L451.65 367.4L446.15 367.4Z" fill="#858585" stroke="#1a1a1a" stroke-width="1.3" stroke-linejoin="round"/>
<path d="M458 370.9L460.75 376.2L455.25 376.2Z" fill="#858585" stroke="#1a1a1a" stroke-width="1.3" stroke-linejoin="round"/>
<path d="M461.7 398L464.45 403.3L458.95 403.3Z" fill="#858585" stroke="#1a1a1a" stroke-width="1.3" stroke-linejoin="round"/>
<path d="M461.7 404.3L464.45 409.6L458.95 409.6Z" fill="#858585" stroke="#1a1a1a" stroke-width="1.3" stroke-linejoin="round"/>
<path d="M466.4 411.6L469.15 416.9L463.65 416.9Z" fill="#858585" stroke="#1a1a1a" stroke-width="1.3" stroke-linejoin="round"/>
<path d="M475.4 413.8L478.15 419.1L472.65 419.1Z" fill="#858585" stroke="#1a1a1a" stroke-width="1.3" stroke-linejoin="round"/>
<path d="M492.7 419.3L495.45 424.6L489.95 424.6Z" fill="#858585" stroke="#1a1a1a" stroke-width="1.3" stroke-linejoin="round"/>
<path d="M523.3 420.5L526.05 425.8L520.55 425.8Z" fill="#858585" stroke="#1a1a1a" stroke-width="1.3" stroke-linejoin="round"/>
<path d="M545.2 452.4L547.95 457.7L542.45 457.7Z" fill="#858585" stroke="#1a1a1a" stroke-width="1.3" stroke-linejoin="round"/>
<rect x="442.35" y="354.85" width="4.7" height="4.7" fill="#b4b4b4" stroke="#2a2a2a" stroke-width="1.3"/>
<rect x="437.35" y="357.65" width="4.7" height="4.7" fill="#b4b4b4" stroke="#2a2a2a" stroke-width="1.3"/>
<rect x="437.95" y="370.05" width="4.7" height="4.7" fill="#b4b4b4" stroke="#2a2a2a" stroke-width="1.3"/>
<rect x="442.15" y="368.75" width="4.7" height="4.7" fill="#b4b4b4" stroke="#2a2a2a" stroke-width="1.3"/>
<rect x="429.05" y="379.45" width="4.7" height="4.7" fill="#b4b4b4" stroke="#2a2a2a" stroke-width="1.3"/>
<rect x="464.05" y="377.15" width="4.7" height="4.7" fill="#b4b4b4" stroke="#2a2a2a" stroke-width="1.3"/>
<rect x="472.85" y="381.15" width="4.7" height="4.7" fill="#b4b4b4" stroke="#2a2a2a" stroke-width="1.3"/>
<rect x="450.95" y="385.65" width="4.7" height="4.7" fill="#b4b4b4" stroke="#2a2a2a" stroke-width="1.3"/>
<rect x="442.45" y="387.45" width="4.7" height="4.7" fill="#b4b4b4" stroke="#2a2a2a" stroke-width="1.3"/>
<rect x="446.55" y="392.65" width="4.7" height="4.7" fill="#b4b4b4" stroke="#2a2a2a" stroke-width="1.3"/>
<rect x="455.25" y="393.65" width="4.7" height="4.7" fill="#b4b4b4" stroke="#2a2a2a" stroke-width="1.3"/>
<rect x="437.75" y="402.35" width="4.7" height="4.7" fill="#b4b4b4" stroke="#2a2a2a" stroke-width="1.3"/>
<rect x="446.55" y="403.15" width="4.7" height="4.7" fill="#b4b4b4" stroke="#2a2a2a" stroke-width="1.3"/>
<rect x="455.25" y="413.85" width="4.7" height="4.7" fill="#b4b4b4" stroke="#2a2a2a" stroke-width="1.3"/>
<rect x="464.05" y="436.85" width="4.7" height="4.7" fill="#b4b4b4" stroke="#2a2a2a" stroke-width="1.3"/>
<rect x="464.05" y="441.25" width="4.7" height="4.7" fill="#b4b4b4" stroke="#2a2a2a" stroke-width="1.3"/>
<circle cx="444.8" cy="332.6" r="2.7" fill="#e0e0e0" stroke="#404040" stroke-width="1.3"/>
<circle cx="435.9" cy="346.6" r="2.7" fill="#e0e0e0" stroke="#404040" stroke-width="1.3"/>
<circle cx="453.3" cy="350.7" r="2.7" fill="#e0e0e0" stroke="#404040" stroke-width="1.3"/>
<circle cx="444.7" cy="353.6" r="2.7" fill="#e0e0e0" stroke="#404040" stroke-width="1.3"/>
<circle cx="444.7" cy="360.6" r="2.7" fill="#e0e0e0" stroke="#404040" stroke-width="1.3"/>
<circle cx="444.7" cy="365" r="2.7" fill="#e0e0e0" stroke="#404040" stroke-width="1.3"/>
<circle cx="440.3" cy="367.9" r="2.7" fill="#e0e0e0" stroke="#404040" stroke-width="1.3"/>
<circle cx="435.9" cy="375.4" r="2.7" fill="#e0e0e0" stroke="#404040" stroke-width="1.3"/>
<circle cx="444.7" cy="376.2" r="2.7" fill="#e0e0e0" stroke="#404040" stroke-width="1.3"/>
<circle cx="453.3" cy="377" r="2.7" fill="#e0e0e0" stroke="#404040" stroke-width="1.3"/>
<circle cx="448.9" cy="379.9" r="2.7" fill="#e0e0e0" stroke="#404040" stroke-width="1.3"/>
<circle cx="444.8" cy="387.4" r="2.7" fill="#e0e0e0" stroke="#404040" stroke-width="1.3"/>
<circle cx="475.5" cy="398.5" r="2.7" fill="#e0e0e0" stroke="#404040" stroke-width="1.3"/>
<path d="M479.7 383.95L482.35 386.6L479.7 389.25L477.05 386.6Z" fill="#000"/>
<path d="M445.3 382.15L447.95 384.8L445.3 387.45L442.65 384.8Z" fill="#000"/>
<path d="M462.3 392.25L464.95 394.9L462.3 397.55L459.65 394.9Z" fill="#000"/>
<path d="M475.7 412.35L478.35 415L475.7 417.65L473.05 415Z" fill="#000"/>
<path d="M497 403.25L499.65 405.9L497 408.55L494.35 405.9Z" fill="#000"/>
<path d="M510.2 403.25L512.85 405.9L510.2 408.55L507.55 405.9Z" fill="#000"/>
<path d="M458.2 418.55L460.85 421.2L458.2 423.85L455.55 421.2Z" fill="#000"/>
<path d="M483.9 418.55L486.55 421.2L483.9 423.85L481.25 421.2Z" fill="#000"/>
<path d="M502 414.35L504.65 417L502 419.65L499.35 417Z" fill="#000"/>
<path d="M505.8 413.75L508.45 416.4L505.8 419.05L503.15 416.4Z" fill="#000"/>
<path d="M536.5 425.15L539.15 427.8L536.5 430.45L533.85 427.8Z" fill="#000"/>
<path d="M514.6 437.75L517.25 440.4L514.6 443.05L511.95 440.4Z" fill="#000"/>
<path d="M576.4 417.75L579.05 420.4L576.4 423.05L573.75 420.4Z" fill="#000"/>
<path d="M637.7 446.25L640.35 448.9L637.7 451.55L635.05 448.9Z" fill="#000"/>
<text x="359.3" y="293.88" font-size="21.5" fill="#111" stroke="#111" stroke-width="0.35" textLength="25.4" lengthAdjust="spacingAndGlyphs">(d)</text>
<text x="428.8" y="317" font-size="12.5" font-weight="bold" fill="#111" stroke="#111" stroke-width="0.4" textLength="15.4" lengthAdjust="spacingAndGlyphs">SF</text>
<text transform="translate(386.1,392) rotate(-90)" x="0" y="0" text-anchor="middle" font-size="13" font-weight="bold" fill="#111" stroke="#111" stroke-width="0.3" textLength="38.5" lengthAdjust="spacingAndGlyphs"><tspan >MI</tspan> (%)</text>
<text x="500.8" y="525" font-size="12.8" font-weight="bold" fill="#1a1a1a" stroke="#1a1a1a" stroke-width="0.3" textLength="89.2" lengthAdjust="spacingAndGlyphs">Hemolysis (%)</text>
<text x="501.8" y="336.5" font-size="14.8" fill="#1a1a1a" stroke="#1a1a1a" stroke-width="0.2" textLength="155" lengthAdjust="spacingAndGlyphs">*<tspan font-style="italic">R</tspan><tspan font-size="10" dy="-5.5">2</tspan><tspan dy="5.5"> (Day 28) = 0.7032</tspan></text>
<line x1="38.7" y1="739.3" x2="306.4" y2="739.3" stroke="#222" stroke-width="1.3"/>
<line x1="44.9" y1="739.5" x2="305.8" y2="739.5" stroke="#2a2a2a" stroke-width="1.9" stroke-dasharray="1.6 3.5"/>
<line x1="45.7" y1="565.5" x2="45.7" y2="745.6" stroke="#a8a8a8" stroke-width="1.4"/>
<line x1="38.7" y1="739.3" x2="45.7" y2="739.3" stroke="#4a4a4a" stroke-width="1.3"/>
<text x="36.3" y="742.7" text-anchor="end" font-size="10.5" fill="#5a5a5a" stroke="#5a5a5a" stroke-width="0.3" textLength="5.2" lengthAdjust="spacingAndGlyphs">0</text>
<line x1="38.7" y1="704.66" x2="45.7" y2="704.66" stroke="#4a4a4a" stroke-width="1.3"/>
<text x="36.3" y="708.06" text-anchor="end" font-size="10.5" fill="#5a5a5a" stroke="#5a5a5a" stroke-width="0.3" textLength="10.2" lengthAdjust="spacingAndGlyphs">20</text>
<line x1="38.7" y1="670.02" x2="45.7" y2="670.02" stroke="#4a4a4a" stroke-width="1.3"/>
<text x="36.3" y="673.42" text-anchor="end" font-size="10.5" fill="#5a5a5a" stroke="#5a5a5a" stroke-width="0.3" textLength="10.2" lengthAdjust="spacingAndGlyphs">40</text>
<line x1="38.7" y1="635.38" x2="45.7" y2="635.38" stroke="#4a4a4a" stroke-width="1.3"/>
<text x="36.3" y="638.78" text-anchor="end" font-size="10.5" fill="#5a5a5a" stroke="#5a5a5a" stroke-width="0.3" textLength="10.2" lengthAdjust="spacingAndGlyphs">60</text>
<line x1="38.7" y1="600.74" x2="45.7" y2="600.74" stroke="#4a4a4a" stroke-width="1.3"/>
<text x="36.3" y="604.14" text-anchor="end" font-size="10.5" fill="#5a5a5a" stroke="#5a5a5a" stroke-width="0.3" textLength="10.2" lengthAdjust="spacingAndGlyphs">80</text>
<line x1="38.7" y1="566.1" x2="45.7" y2="566.1" stroke="#4a4a4a" stroke-width="1.3"/>
<text x="36.3" y="569.5" text-anchor="end" font-size="10.5" fill="#5a5a5a" stroke="#5a5a5a" stroke-width="0.3" textLength="14.8" lengthAdjust="spacingAndGlyphs">100</text>
<line x1="89.05" y1="739.3" x2="89.05" y2="742.9" stroke="#3a3a3a" stroke-width="1.3"/>
<line x1="132.4" y1="739.3" x2="132.4" y2="745.3" stroke="#3a3a3a" stroke-width="1.3"/>
<line x1="175.75" y1="739.3" x2="175.75" y2="742.9" stroke="#3a3a3a" stroke-width="1.3"/>
<line x1="219.1" y1="739.3" x2="219.1" y2="745.3" stroke="#3a3a3a" stroke-width="1.3"/>
<line x1="262.45" y1="739.3" x2="262.45" y2="742.9" stroke="#3a3a3a" stroke-width="1.3"/>
<line x1="305.8" y1="739.3" x2="305.8" y2="745.3" stroke="#3a3a3a" stroke-width="1.3"/>
<text x="45.7" y="757.8" text-anchor="middle" font-size="10.5" fill="#5a5a5a" stroke="#5a5a5a" stroke-width="0.3" textLength="13" lengthAdjust="spacingAndGlyphs">0.0</text>
<text x="132.4" y="757.8" text-anchor="middle" font-size="10.5" fill="#5a5a5a" stroke="#5a5a5a" stroke-width="0.3" textLength="13" lengthAdjust="spacingAndGlyphs">0.1</text>
<text x="219.1" y="757.8" text-anchor="middle" font-size="10.5" fill="#5a5a5a" stroke="#5a5a5a" stroke-width="0.3" textLength="13" lengthAdjust="spacingAndGlyphs">0.2</text>
<text x="305.8" y="757.8" text-anchor="middle" font-size="10.5" fill="#5a5a5a" stroke="#5a5a5a" stroke-width="0.3" textLength="13" lengthAdjust="spacingAndGlyphs">0.3</text>
<line x1="80.4" y1="696.5" x2="135.5" y2="696.5" stroke="#111" stroke-width="1.8" stroke-dasharray="4.2 3.9"/>
<line x1="97.7" y1="676.9" x2="166.8" y2="676.9" stroke="#111" stroke-width="1.9" stroke-dasharray="1.6 3.7"/>
<line x1="124.2" y1="705.8" x2="198.7" y2="635" stroke="#111" stroke-width="1.8" stroke-dasharray="3.8 4.2 1.6 3.4 1.6 4.4"/>
<line x1="167.4" y1="646.6" x2="279.7" y2="646.6" stroke="#111" stroke-width="1.9"/>
<path d="M158.3 649.1L161.05 654.4L155.55 654.4Z" fill="#858585" stroke="#1a1a1a" stroke-width="1.3" stroke-linejoin="round"/>
<path d="M123.8 691.7L126.55 697L121.05 697Z" fill="#858585" stroke="#1a1a1a" stroke-width="1.3" stroke-linejoin="round"/>
<path d="M132.6 698.9L135.35 704.2L129.85 704.2Z" fill="#858585" stroke="#1a1a1a" stroke-width="1.3" stroke-linejoin="round"/>
<path d="M166.8 674.8L169.55 680.1L164.05 680.1Z" fill="#858585" stroke="#1a1a1a" stroke-width="1.3" stroke-linejoin="round"/>
<path d="M166.8 680.5L169.55 685.8L164.05 685.8Z" fill="#858585" stroke="#1a1a1a" stroke-width="1.3" stroke-linejoin="round"/>
<path d="M166.8 683.9L169.55 689.2L164.05 689.2Z" fill="#858585" stroke="#1a1a1a" stroke-width="1.3" stroke-linejoin="round"/>
<path d="M184.4 612.4L187.15 617.7L181.65 617.7Z" fill="#858585" stroke="#1a1a1a" stroke-width="1.3" stroke-linejoin="round"/>
<path d="M202 621.6L204.75 626.9L199.25 626.9Z" fill="#858585" stroke="#1a1a1a" stroke-width="1.3" stroke-linejoin="round"/>
<path d="M175.7 632.1L178.45 637.4L172.95 637.4Z" fill="#858585" stroke="#1a1a1a" stroke-width="1.3" stroke-linejoin="round"/>
<path d="M184.4 637L187.15 642.3L181.65 642.3Z" fill="#858585" stroke="#1a1a1a" stroke-width="1.3" stroke-linejoin="round"/>
<path d="M175.7 659.5L178.45 664.8L172.95 664.8Z" fill="#858585" stroke="#1a1a1a" stroke-width="1.3" stroke-linejoin="round"/>
<path d="M175.7 674.2L178.45 679.5L172.95 679.5Z" fill="#858585" stroke="#1a1a1a" stroke-width="1.3" stroke-linejoin="round"/>
<path d="M184.4 672.2L187.15 677.5L181.65 677.5Z" fill="#858585" stroke="#1a1a1a" stroke-width="1.3" stroke-linejoin="round"/>
<rect x="95.35" y="654.85" width="4.7" height="4.7" fill="#b4b4b4" stroke="#2a2a2a" stroke-width="1.3"/>
<rect x="147.25" y="646.65" width="4.7" height="4.7" fill="#b4b4b4" stroke="#2a2a2a" stroke-width="1.3"/>
<rect x="156.05" y="652.45" width="4.7" height="4.7" fill="#b4b4b4" stroke="#2a2a2a" stroke-width="1.3"/>
<rect x="121.45" y="681.05" width="4.7" height="4.7" fill="#b4b4b4" stroke="#2a2a2a" stroke-width="1.3"/>
<rect x="138.75" y="680.85" width="4.7" height="4.7" fill="#b4b4b4" stroke="#2a2a2a" stroke-width="1.3"/>
<rect x="147.35" y="686.35" width="4.7" height="4.7" fill="#b4b4b4" stroke="#2a2a2a" stroke-width="1.3"/>
<rect x="95.35" y="687.95" width="4.7" height="4.7" fill="#b4b4b4" stroke="#2a2a2a" stroke-width="1.3"/>
<rect x="104.25" y="688.55" width="4.7" height="4.7" fill="#b4b4b4" stroke="#2a2a2a" stroke-width="1.3"/>
<rect x="104.25" y="697.35" width="4.7" height="4.7" fill="#b4b4b4" stroke="#2a2a2a" stroke-width="1.3"/>
<rect x="104.25" y="705.95" width="4.7" height="4.7" fill="#b4b4b4" stroke="#2a2a2a" stroke-width="1.3"/>
<rect x="147.25" y="696.45" width="4.7" height="4.7" fill="#b4b4b4" stroke="#2a2a2a" stroke-width="1.3"/>
<rect x="164.45" y="699.15" width="4.7" height="4.7" fill="#b4b4b4" stroke="#2a2a2a" stroke-width="1.3"/>
<rect x="147.05" y="607.05" width="4.7" height="4.7" fill="#b4b4b4" stroke="#2a2a2a" stroke-width="1.3"/>
<rect x="139.45" y="628.35" width="4.7" height="4.7" fill="#b4b4b4" stroke="#2a2a2a" stroke-width="1.3"/>
<circle cx="123.8" cy="666.2" r="2.7" fill="#e0e0e0" stroke="#404040" stroke-width="1.3"/>
<circle cx="88.9" cy="672.9" r="2.7" fill="#e0e0e0" stroke="#404040" stroke-width="1.3"/>
<circle cx="80.4" cy="686.6" r="2.7" fill="#e0e0e0" stroke="#404040" stroke-width="1.3"/>
<circle cx="115.1" cy="681.4" r="2.7" fill="#e0e0e0" stroke="#404040" stroke-width="1.3"/>
<circle cx="123.8" cy="683" r="2.7" fill="#e0e0e0" stroke="#404040" stroke-width="1.3"/>
<circle cx="115.1" cy="692.7" r="2.7" fill="#e0e0e0" stroke="#404040" stroke-width="1.3"/>
<circle cx="123.8" cy="699.4" r="2.7" fill="#e0e0e0" stroke="#404040" stroke-width="1.3"/>
<circle cx="97.7" cy="701.8" r="2.7" fill="#e0e0e0" stroke="#404040" stroke-width="1.3"/>
<circle cx="97.7" cy="705.8" r="2.7" fill="#e0e0e0" stroke="#404040" stroke-width="1.3"/>
<circle cx="106.6" cy="703.9" r="2.7" fill="#e0e0e0" stroke="#404040" stroke-width="1.3"/>
<circle cx="132.6" cy="705.8" r="2.7" fill="#e0e0e0" stroke="#404040" stroke-width="1.3"/>
<circle cx="141.1" cy="713.5" r="2.7" fill="#e0e0e0" stroke="#404040" stroke-width="1.3"/>
<circle cx="88.9" cy="723.5" r="2.7" fill="#e0e0e0" stroke="#404040" stroke-width="1.3"/>
<circle cx="123.8" cy="726.2" r="2.7" fill="#e0e0e0" stroke="#404040" stroke-width="1.3"/>
<path d="M166.8 687.95L169.45 690.6L166.8 693.25L164.15 690.6Z" fill="#000"/>
<path d="M245.1 605.65L247.75 608.3L245.1 610.95L242.45 608.3Z" fill="#000"/>
<path d="M271.4 620.35L274.05 623L271.4 625.65L268.75 623Z" fill="#000"/>
<path d="M280.1 618.15L282.75 620.8L280.1 623.45L277.45 620.8Z" fill="#000"/>
<path d="M245.1 632.85L247.75 635.5L245.1 638.15L242.45 635.5Z" fill="#000"/>
<path d="M253.4 648.35L256.05 651L253.4 653.65L250.75 651Z" fill="#000"/>
<path d="M262.6 666.35L265.25 669L262.6 671.65L259.95 669Z" fill="#000"/>
<path d="M245.1 672.25L247.75 674.9L245.1 677.55L242.45 674.9Z" fill="#000"/>
<text x="2.6" y="548.59" font-size="21.5" fill="#111" stroke="#111" stroke-width="0.35" textLength="23.7" lengthAdjust="spacingAndGlyphs">(e)</text>
<text x="59.1" y="574.7" font-size="12.5" font-weight="bold" fill="#111" stroke="#111" stroke-width="0.4" textLength="18" lengthAdjust="spacingAndGlyphs">TM</text>
<text transform="translate(22.4,658.5) rotate(-90)" x="0" y="0" text-anchor="middle" font-size="13" font-weight="bold" fill="#111" stroke="#111" stroke-width="0.3" textLength="59" lengthAdjust="spacingAndGlyphs"><tspan font-style="italic">SMEs</tspan> (%)</text>
<text x="131.1" y="775.6" font-size="12.8" font-weight="bold" fill="#1a1a1a" stroke="#1a1a1a" stroke-width="0.3" textLength="88.8" lengthAdjust="spacingAndGlyphs">Hemolysis (%)</text>
<line x1="407.3" y1="737.6" x2="670.4" y2="737.6" stroke="#7a7a7a" stroke-width="1.3"/>
<line x1="413.5" y1="737.8" x2="669.8" y2="737.8" stroke="#2a2a2a" stroke-width="1.9" stroke-dasharray="1.6 3.5"/>
<line x1="414.3" y1="567.4" x2="414.3" y2="743.9" stroke="#8a8a8a" stroke-width="1.4"/>
<line x1="407.3" y1="737.6" x2="414.3" y2="737.6" stroke="#808080" stroke-width="1.3"/>
<text x="404.9" y="741" text-anchor="end" font-size="10.5" fill="#5a5a5a" stroke="#5a5a5a" stroke-width="0.3" textLength="5.2" lengthAdjust="spacingAndGlyphs">0</text>
<line x1="407.3" y1="703.68" x2="414.3" y2="703.68" stroke="#808080" stroke-width="1.3"/>
<text x="404.9" y="707.08" text-anchor="end" font-size="10.5" fill="#5a5a5a" stroke="#5a5a5a" stroke-width="0.3" textLength="10.2" lengthAdjust="spacingAndGlyphs">20</text>
<line x1="407.3" y1="669.76" x2="414.3" y2="669.76" stroke="#808080" stroke-width="1.3"/>
<text x="404.9" y="673.16" text-anchor="end" font-size="10.5" fill="#5a5a5a" stroke="#5a5a5a" stroke-width="0.3" textLength="10.2" lengthAdjust="spacingAndGlyphs">40</text>
<line x1="407.3" y1="635.84" x2="414.3" y2="635.84" stroke="#808080" stroke-width="1.3"/>
<text x="404.9" y="639.24" text-anchor="end" font-size="10.5" fill="#5a5a5a" stroke="#5a5a5a" stroke-width="0.3" textLength="10.2" lengthAdjust="spacingAndGlyphs">60</text>
<line x1="407.3" y1="601.92" x2="414.3" y2="601.92" stroke="#808080" stroke-width="1.3"/>
<text x="404.9" y="605.32" text-anchor="end" font-size="10.5" fill="#5a5a5a" stroke="#5a5a5a" stroke-width="0.3" textLength="10.2" lengthAdjust="spacingAndGlyphs">80</text>
<line x1="407.3" y1="568" x2="414.3" y2="568" stroke="#808080" stroke-width="1.3"/>
<text x="404.9" y="571.4" text-anchor="end" font-size="10.5" fill="#5a5a5a" stroke="#5a5a5a" stroke-width="0.3" textLength="14.8" lengthAdjust="spacingAndGlyphs">100</text>
<line x1="439.85" y1="737.6" x2="439.85" y2="741.2" stroke="#7a7a7a" stroke-width="1.3"/>
<line x1="465.4" y1="737.6" x2="465.4" y2="743.6" stroke="#7a7a7a" stroke-width="1.3"/>
<line x1="490.95" y1="737.6" x2="490.95" y2="741.2" stroke="#7a7a7a" stroke-width="1.3"/>
<line x1="516.5" y1="737.6" x2="516.5" y2="743.6" stroke="#7a7a7a" stroke-width="1.3"/>
<line x1="542.05" y1="737.6" x2="542.05" y2="741.2" stroke="#7a7a7a" stroke-width="1.3"/>
<line x1="567.6" y1="737.6" x2="567.6" y2="743.6" stroke="#7a7a7a" stroke-width="1.3"/>
<line x1="593.15" y1="737.6" x2="593.15" y2="741.2" stroke="#7a7a7a" stroke-width="1.3"/>
<line x1="618.7" y1="737.6" x2="618.7" y2="743.6" stroke="#7a7a7a" stroke-width="1.3"/>
<line x1="644.25" y1="737.6" x2="644.25" y2="741.2" stroke="#7a7a7a" stroke-width="1.3"/>
<line x1="669.8" y1="737.6" x2="669.8" y2="743.6" stroke="#7a7a7a" stroke-width="1.3"/>
<text x="414.3" y="756.1" text-anchor="middle" font-size="10.5" fill="#5a5a5a" stroke="#5a5a5a" stroke-width="0.3" textLength="13" lengthAdjust="spacingAndGlyphs">0.0</text>
<text x="465.4" y="756.1" text-anchor="middle" font-size="10.5" fill="#5a5a5a" stroke="#5a5a5a" stroke-width="0.3" textLength="13" lengthAdjust="spacingAndGlyphs">0.1</text>
<text x="516.5" y="756.1" text-anchor="middle" font-size="10.5" fill="#5a5a5a" stroke="#5a5a5a" stroke-width="0.3" textLength="13" lengthAdjust="spacingAndGlyphs">0.2</text>
<text x="567.6" y="756.1" text-anchor="middle" font-size="10.5" fill="#5a5a5a" stroke="#5a5a5a" stroke-width="0.3" textLength="13" lengthAdjust="spacingAndGlyphs">0.3</text>
<text x="618.7" y="756.1" text-anchor="middle" font-size="10.5" fill="#5a5a5a" stroke="#5a5a5a" stroke-width="0.3" textLength="13" lengthAdjust="spacingAndGlyphs">0.4</text>
<text x="669.8" y="756.1" text-anchor="middle" font-size="10.5" fill="#5a5a5a" stroke="#5a5a5a" stroke-width="0.3" textLength="13" lengthAdjust="spacingAndGlyphs">0.5</text>
<line x1="440.5" y1="707.1" x2="511" y2="707.1" stroke="#111" stroke-width="1.8" stroke-dasharray="4.2 3.9"/>
<line x1="434.3" y1="688.5" x2="517.5" y2="688.5" stroke="#111" stroke-width="1.9" stroke-dasharray="1.6 3.7"/>
<line x1="440.4" y1="674.3" x2="499.7" y2="674.3" stroke="#111" stroke-width="1.8" stroke-dasharray="3.8 4.2 1.6 3.4 1.6 4.4"/>
<line x1="470.8" y1="651.2" x2="628.8" y2="651.2" stroke="#111" stroke-width="1.9"/>
<path d="M439.7 645.9L442.45 651.2L436.95 651.2Z" fill="#858585" stroke="#1a1a1a" stroke-width="1.3" stroke-linejoin="round"/>
<path d="M470.6 657.3L473.35 662.6L467.85 662.6Z" fill="#858585" stroke="#1a1a1a" stroke-width="1.3" stroke-linejoin="round"/>
<path d="M485.7 654.3L488.45 659.6L482.95 659.6Z" fill="#858585" stroke="#1a1a1a" stroke-width="1.3" stroke-linejoin="round"/>
<path d="M501.3 651.7L504.05 657L498.55 657Z" fill="#858585" stroke="#1a1a1a" stroke-width="1.3" stroke-linejoin="round"/>
<path d="M460.1 666L462.85 671.3L457.35 671.3Z" fill="#858585" stroke="#1a1a1a" stroke-width="1.3" stroke-linejoin="round"/>
<path d="M460.1 675.3L462.85 680.6L457.35 680.6Z" fill="#858585" stroke="#1a1a1a" stroke-width="1.3" stroke-linejoin="round"/>
<path d="M465.3 676.2L468.05 681.5L462.55 681.5Z" fill="#858585" stroke="#1a1a1a" stroke-width="1.3" stroke-linejoin="round"/>
<path d="M480.6 688.2L483.35 693.5L477.85 693.5Z" fill="#858585" stroke="#1a1a1a" stroke-width="1.3" stroke-linejoin="round"/>
<path d="M490.8 686.7L493.55 692L488.05 692Z" fill="#858585" stroke="#1a1a1a" stroke-width="1.3" stroke-linejoin="round"/>
<rect x="462.65" y="659.25" width="4.7" height="4.7" fill="#b4b4b4" stroke="#2a2a2a" stroke-width="1.3"/>
<rect x="488.75" y="663.65" width="4.7" height="4.7" fill="#b4b4b4" stroke="#2a2a2a" stroke-width="1.3"/>
<rect x="431.95" y="678.25" width="4.7" height="4.7" fill="#b4b4b4" stroke="#2a2a2a" stroke-width="1.3"/>
<rect x="431.95" y="685.05" width="4.7" height="4.7" fill="#b4b4b4" stroke="#2a2a2a" stroke-width="1.3"/>
<rect x="431.95" y="692.85" width="4.7" height="4.7" fill="#b4b4b4" stroke="#2a2a2a" stroke-width="1.3"/>
<rect x="431.95" y="701.85" width="4.7" height="4.7" fill="#b4b4b4" stroke="#2a2a2a" stroke-width="1.3"/>
<rect x="457.75" y="689.05" width="4.7" height="4.7" fill="#b4b4b4" stroke="#2a2a2a" stroke-width="1.3"/>
<rect x="478.25" y="684.05" width="4.7" height="4.7" fill="#b4b4b4" stroke="#2a2a2a" stroke-width="1.3"/>
<rect x="478.25" y="697.25" width="4.7" height="4.7" fill="#b4b4b4" stroke="#2a2a2a" stroke-width="1.3"/>
<rect x="442.45" y="699.25" width="4.7" height="4.7" fill="#b4b4b4" stroke="#2a2a2a" stroke-width="1.3"/>
<rect x="457.75" y="703.05" width="4.7" height="4.7" fill="#b4b4b4" stroke="#2a2a2a" stroke-width="1.3"/>
<rect x="462.95" y="709.15" width="4.7" height="4.7" fill="#b4b4b4" stroke="#2a2a2a" stroke-width="1.3"/>
<rect x="519.05" y="699.95" width="4.7" height="4.7" fill="#b4b4b4" stroke="#2a2a2a" stroke-width="1.3"/>
<rect x="462.15" y="630.65" width="4.7" height="4.7" fill="#b4b4b4" stroke="#2a2a2a" stroke-width="1.3"/>
<circle cx="439.7" cy="674.7" r="2.7" fill="#e0e0e0" stroke="#404040" stroke-width="1.3"/>
<circle cx="495.9" cy="692.8" r="2.7" fill="#e0e0e0" stroke="#404040" stroke-width="1.3"/>
<circle cx="449.9" cy="699.1" r="2.7" fill="#e0e0e0" stroke="#404040" stroke-width="1.3"/>
<circle cx="455" cy="696.2" r="2.7" fill="#e0e0e0" stroke="#404040" stroke-width="1.3"/>
<circle cx="455" cy="702" r="2.7" fill="#e0e0e0" stroke="#404040" stroke-width="1.3"/>
<circle cx="439.7" cy="707.4" r="2.7" fill="#e0e0e0" stroke="#404040" stroke-width="1.3"/>
<circle cx="460.1" cy="709.8" r="2.7" fill="#e0e0e0" stroke="#404040" stroke-width="1.3"/>
<circle cx="475.5" cy="706.4" r="2.7" fill="#e0e0e0" stroke="#404040" stroke-width="1.3"/>
<circle cx="475.5" cy="710.4" r="2.7" fill="#e0e0e0" stroke="#404040" stroke-width="1.3"/>
<circle cx="445" cy="718.5" r="2.7" fill="#e0e0e0" stroke="#404040" stroke-width="1.3"/>
<circle cx="455" cy="720" r="2.7" fill="#e0e0e0" stroke="#404040" stroke-width="1.3"/>
<circle cx="475.5" cy="718.4" r="2.7" fill="#e0e0e0" stroke="#404040" stroke-width="1.3"/>
<circle cx="511.3" cy="718.2" r="2.7" fill="#e0e0e0" stroke="#404040" stroke-width="1.3"/>
<circle cx="440" cy="721.5" r="2.7" fill="#e0e0e0" stroke="#404040" stroke-width="1.3"/>
<path d="M485.7 663.35L488.35 666L485.7 668.65L483.05 666Z" fill="#000"/>
<path d="M491.1 675.05L493.75 677.7L491.1 680.35L488.45 677.7Z" fill="#000"/>
<path d="M511.4 610.25L514.05 612.9L511.4 615.55L508.75 612.9Z" fill="#000"/>
<path d="M552.4 615.25L555.05 617.9L552.4 620.55L549.75 617.9Z" fill="#000"/>
<path d="M506.2 623.15L508.85 625.8L506.2 628.45L503.55 625.8Z" fill="#000"/>
<path d="M480.4 629.15L483.05 631.8L480.4 634.45L477.75 631.8Z" fill="#000"/>
<path d="M471.2 631.35L473.85 634L471.2 636.65L468.55 634Z" fill="#000"/>
<path d="M527.1 649.45L529.75 652.1L527.1 654.75L524.45 652.1Z" fill="#000"/>
<path d="M521.4 655.15L524.05 657.8L521.4 660.45L518.75 657.8Z" fill="#000"/>
<path d="M572.5 661.85L575.15 664.5L572.5 667.15L569.85 664.5Z" fill="#000"/>
<path d="M628.8 676.05L631.45 678.7L628.8 681.35L626.15 678.7Z" fill="#000"/>
<path d="M552.4 694.15L555.05 696.8L552.4 699.45L549.75 696.8Z" fill="#000"/>
<text x="359.3" y="548.09" font-size="21.5" fill="#111" stroke="#111" stroke-width="0.35" textLength="20.7" lengthAdjust="spacingAndGlyphs">(f)</text>
<text x="429.4" y="575" font-size="12.5" font-weight="bold" fill="#111" stroke="#111" stroke-width="0.4" textLength="14.2" lengthAdjust="spacingAndGlyphs">TF</text>
<text transform="translate(382.1,657.3) rotate(-90)" x="0" y="0" text-anchor="middle" font-size="13" font-weight="bold" fill="#111" stroke="#111" stroke-width="0.3" textLength="59.6" lengthAdjust="spacingAndGlyphs"><tspan font-style="italic">SMEs</tspan> (%)</text>
<text x="498.1" y="773.6" font-size="12.8" font-weight="bold" fill="#1a1a1a" stroke="#1a1a1a" stroke-width="0.3" textLength="87" lengthAdjust="spacingAndGlyphs">Hemolysis (%)</text>
<line x1="43.8" y1="994.1" x2="306.9" y2="994.1" stroke="#8a8a8a" stroke-width="1.3"/>
<line x1="50" y1="994.3" x2="306.3" y2="994.3" stroke="#2a2a2a" stroke-width="1.9" stroke-dasharray="1.6 3.5"/>
<line x1="50.8" y1="823" x2="50.8" y2="1000.4" stroke="#444" stroke-width="1.4"/>
<line x1="43.8" y1="994.1" x2="50.8" y2="994.1" stroke="#3a3a3a" stroke-width="1.3"/>
<text x="41.4" y="997.5" text-anchor="end" font-size="10.5" fill="#5a5a5a" stroke="#5a5a5a" stroke-width="0.3" textLength="5.2" lengthAdjust="spacingAndGlyphs">0</text>
<line x1="43.8" y1="960" x2="50.8" y2="960" stroke="#3a3a3a" stroke-width="1.3"/>
<text x="41.4" y="963.4" text-anchor="end" font-size="10.5" fill="#5a5a5a" stroke="#5a5a5a" stroke-width="0.3" textLength="10.2" lengthAdjust="spacingAndGlyphs">20</text>
<line x1="43.8" y1="925.9" x2="50.8" y2="925.9" stroke="#3a3a3a" stroke-width="1.3"/>
<text x="41.4" y="929.3" text-anchor="end" font-size="10.5" fill="#5a5a5a" stroke="#5a5a5a" stroke-width="0.3" textLength="10.2" lengthAdjust="spacingAndGlyphs">40</text>
<line x1="43.8" y1="891.8" x2="50.8" y2="891.8" stroke="#3a3a3a" stroke-width="1.3"/>
<text x="41.4" y="895.2" text-anchor="end" font-size="10.5" fill="#5a5a5a" stroke="#5a5a5a" stroke-width="0.3" textLength="10.2" lengthAdjust="spacingAndGlyphs">60</text>
<line x1="43.8" y1="857.7" x2="50.8" y2="857.7" stroke="#3a3a3a" stroke-width="1.3"/>
<text x="41.4" y="861.1" text-anchor="end" font-size="10.5" fill="#5a5a5a" stroke="#5a5a5a" stroke-width="0.3" textLength="10.2" lengthAdjust="spacingAndGlyphs">80</text>
<line x1="43.8" y1="823.6" x2="50.8" y2="823.6" stroke="#3a3a3a" stroke-width="1.3"/>
<text x="41.4" y="827" text-anchor="end" font-size="10.5" fill="#5a5a5a" stroke="#5a5a5a" stroke-width="0.3" textLength="14.8" lengthAdjust="spacingAndGlyphs">100</text>
<line x1="76.35" y1="994.1" x2="76.35" y2="997.7" stroke="#8a8a8a" stroke-width="1.3"/>
<line x1="101.9" y1="994.1" x2="101.9" y2="1000.1" stroke="#8a8a8a" stroke-width="1.3"/>
<line x1="127.45" y1="994.1" x2="127.45" y2="997.7" stroke="#8a8a8a" stroke-width="1.3"/>
<line x1="153" y1="994.1" x2="153" y2="1000.1" stroke="#8a8a8a" stroke-width="1.3"/>
<line x1="178.55" y1="994.1" x2="178.55" y2="997.7" stroke="#8a8a8a" stroke-width="1.3"/>
<line x1="204.1" y1="994.1" x2="204.1" y2="1000.1" stroke="#8a8a8a" stroke-width="1.3"/>
<line x1="229.65" y1="994.1" x2="229.65" y2="997.7" stroke="#8a8a8a" stroke-width="1.3"/>
<line x1="255.2" y1="994.1" x2="255.2" y2="1000.1" stroke="#8a8a8a" stroke-width="1.3"/>
<line x1="280.75" y1="994.1" x2="280.75" y2="997.7" stroke="#8a8a8a" stroke-width="1.3"/>
<line x1="306.3" y1="994.1" x2="306.3" y2="1000.1" stroke="#8a8a8a" stroke-width="1.3"/>
<text x="50.8" y="1012.6" text-anchor="middle" font-size="10.5" fill="#5a5a5a" stroke="#5a5a5a" stroke-width="0.3" textLength="13" lengthAdjust="spacingAndGlyphs">0.0</text>
<text x="101.9" y="1012.6" text-anchor="middle" font-size="10.5" fill="#5a5a5a" stroke="#5a5a5a" stroke-width="0.3" textLength="13" lengthAdjust="spacingAndGlyphs">0.1</text>
<text x="153" y="1012.6" text-anchor="middle" font-size="10.5" fill="#5a5a5a" stroke="#5a5a5a" stroke-width="0.3" textLength="13" lengthAdjust="spacingAndGlyphs">0.2</text>
<text x="204.1" y="1012.6" text-anchor="middle" font-size="10.5" fill="#5a5a5a" stroke="#5a5a5a" stroke-width="0.3" textLength="13" lengthAdjust="spacingAndGlyphs">0.3</text>
<text x="255.2" y="1012.6" text-anchor="middle" font-size="10.5" fill="#5a5a5a" stroke="#5a5a5a" stroke-width="0.3" textLength="13" lengthAdjust="spacingAndGlyphs">0.4</text>
<text x="306.3" y="1012.6" text-anchor="middle" font-size="10.5" fill="#5a5a5a" stroke="#5a5a5a" stroke-width="0.3" textLength="13" lengthAdjust="spacingAndGlyphs">0.5</text>
<line x1="70.9" y1="956.5" x2="125.8" y2="956.5" stroke="#111" stroke-width="1.8" stroke-dasharray="4.2 3.9"/>
<line x1="80.9" y1="935" x2="108.2" y2="935" stroke="#111" stroke-width="1.9" stroke-dasharray="1.6 3.7"/>
<line x1="96.9" y1="948.2" x2="162.6" y2="882.7" stroke="#111" stroke-width="1.8" stroke-dasharray="3.8 4.2 1.6 3.4 1.6 4.4"/>
<line x1="122.1" y1="904.2" x2="255.5" y2="904.2" stroke="#111" stroke-width="1.9"/>
<path d="M107.5 915.3L110.25 920.6L104.75 920.6Z" fill="#858585" stroke="#1a1a1a" stroke-width="1.3" stroke-linejoin="round"/>
<path d="M127.6 904.3L130.35 909.6L124.85 909.6Z" fill="#858585" stroke="#1a1a1a" stroke-width="1.3" stroke-linejoin="round"/>
<path d="M132.9 909.1L135.65 914.4L130.15 914.4Z" fill="#858585" stroke="#1a1a1a" stroke-width="1.3" stroke-linejoin="round"/>
<path d="M132.9 917.8L135.65 923.1L130.15 923.1Z" fill="#858585" stroke="#1a1a1a" stroke-width="1.3" stroke-linejoin="round"/>
<path d="M127.6 923L130.35 928.3L124.85 928.3Z" fill="#858585" stroke="#1a1a1a" stroke-width="1.3" stroke-linejoin="round"/>
<path d="M117 929.1L119.75 934.4L114.25 934.4Z" fill="#858585" stroke="#1a1a1a" stroke-width="1.3" stroke-linejoin="round"/>
<path d="M107.3 947.3L110.05 952.6L104.55 952.6Z" fill="#858585" stroke="#1a1a1a" stroke-width="1.3" stroke-linejoin="round"/>
<path d="M97.7 951.7L100.45 957L94.95 957Z" fill="#858585" stroke="#1a1a1a" stroke-width="1.3" stroke-linejoin="round"/>
<path d="M153.2 901.4L155.95 906.7L150.45 906.7Z" fill="#858585" stroke="#1a1a1a" stroke-width="1.3" stroke-linejoin="round"/>
<path d="M153.2 906.7L155.95 912L150.45 912Z" fill="#858585" stroke="#1a1a1a" stroke-width="1.3" stroke-linejoin="round"/>
<path d="M163.7 863.9L166.45 869.2L160.95 869.2Z" fill="#858585" stroke="#1a1a1a" stroke-width="1.3" stroke-linejoin="round"/>
<path d="M148.1 871.6L150.85 876.9L145.35 876.9Z" fill="#858585" stroke="#1a1a1a" stroke-width="1.3" stroke-linejoin="round"/>
<path d="M148.1 875.6L150.85 880.9L145.35 880.9Z" fill="#858585" stroke="#1a1a1a" stroke-width="1.3" stroke-linejoin="round"/>
<path d="M163.7 884L166.45 889.3L160.95 889.3Z" fill="#858585" stroke="#1a1a1a" stroke-width="1.3" stroke-linejoin="round"/>
<path d="M163.7 891L166.45 896.3L160.95 896.3Z" fill="#858585" stroke="#1a1a1a" stroke-width="1.3" stroke-linejoin="round"/>
<rect x="104.65" y="892.85" width="4.7" height="4.7" fill="#b4b4b4" stroke="#2a2a2a" stroke-width="1.3"/>
<rect x="99.55" y="911.95" width="4.7" height="4.7" fill="#b4b4b4" stroke="#2a2a2a" stroke-width="1.3"/>
<rect x="99.55" y="917.05" width="4.7" height="4.7" fill="#b4b4b4" stroke="#2a2a2a" stroke-width="1.3"/>
<rect x="99.55" y="924.25" width="4.7" height="4.7" fill="#b4b4b4" stroke="#2a2a2a" stroke-width="1.3"/>
<rect x="94.35" y="933.05" width="4.7" height="4.7" fill="#b4b4b4" stroke="#2a2a2a" stroke-width="1.3"/>
<rect x="119.95" y="936.65" width="4.7" height="4.7" fill="#b4b4b4" stroke="#2a2a2a" stroke-width="1.3"/>
<rect x="119.95" y="904.95" width="4.7" height="4.7" fill="#b4b4b4" stroke="#2a2a2a" stroke-width="1.3"/>
<rect x="79.25" y="945.15" width="4.7" height="4.7" fill="#b4b4b4" stroke="#2a2a2a" stroke-width="1.3"/>
<rect x="79.35" y="953.05" width="4.7" height="4.7" fill="#b4b4b4" stroke="#2a2a2a" stroke-width="1.3"/>
<rect x="89.45" y="947.65" width="4.7" height="4.7" fill="#b4b4b4" stroke="#2a2a2a" stroke-width="1.3"/>
<rect x="94.45" y="944.65" width="4.7" height="4.7" fill="#b4b4b4" stroke="#2a2a2a" stroke-width="1.3"/>
<rect x="99.55" y="944.15" width="4.7" height="4.7" fill="#b4b4b4" stroke="#2a2a2a" stroke-width="1.3"/>
<rect x="104.75" y="943.45" width="4.7" height="4.7" fill="#b4b4b4" stroke="#2a2a2a" stroke-width="1.3"/>
<rect x="109.75" y="939.15" width="4.7" height="4.7" fill="#b4b4b4" stroke="#2a2a2a" stroke-width="1.3"/>
<rect x="99.55" y="953.05" width="4.7" height="4.7" fill="#b4b4b4" stroke="#2a2a2a" stroke-width="1.3"/>
<circle cx="76.2" cy="913" r="2.7" fill="#e0e0e0" stroke="#404040" stroke-width="1.3"/>
<circle cx="81.7" cy="929.5" r="2.7" fill="#e0e0e0" stroke="#404040" stroke-width="1.3"/>
<circle cx="96.7" cy="919" r="2.7" fill="#e0e0e0" stroke="#404040" stroke-width="1.3"/>
<circle cx="81.7" cy="953" r="2.7" fill="#e0e0e0" stroke="#404040" stroke-width="1.3"/>
<circle cx="86.5" cy="954.3" r="2.7" fill="#e0e0e0" stroke="#404040" stroke-width="1.3"/>
<circle cx="91.8" cy="956.5" r="2.7" fill="#e0e0e0" stroke="#404040" stroke-width="1.3"/>
<circle cx="127.4" cy="955.4" r="2.7" fill="#e0e0e0" stroke="#404040" stroke-width="1.3"/>
<circle cx="70.9" cy="969.6" r="2.7" fill="#e0e0e0" stroke="#404040" stroke-width="1.3"/>
<circle cx="81.5" cy="971.6" r="2.7" fill="#e0e0e0" stroke="#404040" stroke-width="1.3"/>
<circle cx="91.8" cy="971.6" r="2.7" fill="#e0e0e0" stroke="#404040" stroke-width="1.3"/>
<circle cx="91.8" cy="977" r="2.7" fill="#e0e0e0" stroke="#404040" stroke-width="1.3"/>
<circle cx="96.8" cy="979.4" r="2.7" fill="#e0e0e0" stroke="#404040" stroke-width="1.3"/>
<circle cx="112" cy="969.4" r="2.7" fill="#e0e0e0" stroke="#404040" stroke-width="1.3"/>
<circle cx="112" cy="979.7" r="2.7" fill="#e0e0e0" stroke="#404040" stroke-width="1.3"/>
<path d="M122.3 908.15L124.95 910.8L122.3 913.45L119.65 910.8Z" fill="#000"/>
<path d="M163.7 920.25L166.35 922.9L163.7 925.55L161.05 922.9Z" fill="#000"/>
<path d="M163.7 931.75L166.35 934.4L163.7 937.05L161.05 934.4Z" fill="#000"/>
<path d="M183.6 872.55L186.25 875.2L183.6 877.85L180.95 875.2Z" fill="#000"/>
<path d="M214.4 877.25L217.05 879.9L214.4 882.55L211.75 879.9Z" fill="#000"/>
<path d="M255.5 879.35L258.15 882L255.5 884.65L252.85 882Z" fill="#000"/>
<path d="M173.5 895.25L176.15 897.9L173.5 900.55L170.85 897.9Z" fill="#000"/>
<path d="M189 895.95L191.65 898.6L189 901.25L186.35 898.6Z" fill="#000"/>
<path d="M178.4 905.05L181.05 907.7L178.4 910.35L175.75 907.7Z" fill="#000"/>
<path d="M240.1 910.45L242.75 913.1L240.1 915.75L237.45 913.1Z" fill="#000"/>
<path d="M173.5 922.55L176.15 925.2L173.5 927.85L170.85 925.2Z" fill="#000"/>
<text x="2.6" y="814.69" font-size="21.5" fill="#111" stroke="#111" stroke-width="0.35" textLength="23.7" lengthAdjust="spacingAndGlyphs">(<tspan font-family="Liberation Serif" font-size="23">g</tspan>)</text>
<text x="65.4" y="832.6" font-size="12.5" font-weight="bold" fill="#111" stroke="#111" stroke-width="0.4" textLength="19" lengthAdjust="spacingAndGlyphs">SM</text>
<text transform="translate(25.6,912) rotate(-90)" x="0" y="0" text-anchor="middle" font-size="13" font-weight="bold" fill="#111" stroke="#111" stroke-width="0.3" textLength="59.5" lengthAdjust="spacingAndGlyphs"><tspan font-style="italic">SMEs</tspan> (%)</text>
<text x="134" y="1028.9" font-size="12.8" font-weight="bold" fill="#1a1a1a" stroke="#1a1a1a" stroke-width="0.3" textLength="87.6" lengthAdjust="spacingAndGlyphs">Hemolysis (%)</text>
<text x="153.1" y="847.3" font-size="14.8" fill="#1a1a1a" stroke="#1a1a1a" stroke-width="0.2" textLength="154.3" lengthAdjust="spacingAndGlyphs">*<tspan font-style="italic">R</tspan><tspan font-size="10" dy="-5.5">2</tspan><tspan dy="5.5"> (Day 28) = 0.7290</tspan></text>
<line x1="410.6" y1="991.3" x2="672" y2="991.3" stroke="#3a3a3a" stroke-width="1.3"/>
<line x1="416.8" y1="991.5" x2="671.4" y2="991.5" stroke="#2a2a2a" stroke-width="1.9" stroke-dasharray="1.6 3.5"/>
<line x1="417.6" y1="821.8" x2="417.6" y2="997.6" stroke="#3a3a3a" stroke-width="1.4"/>
<line x1="410.6" y1="991.3" x2="417.6" y2="991.3" stroke="#3a3a3a" stroke-width="1.3"/>
<text x="408.2" y="994.7" text-anchor="end" font-size="10.5" fill="#5a5a5a" stroke="#5a5a5a" stroke-width="0.3" textLength="5.2" lengthAdjust="spacingAndGlyphs">0</text>
<line x1="410.6" y1="957.52" x2="417.6" y2="957.52" stroke="#3a3a3a" stroke-width="1.3"/>
<text x="408.2" y="960.92" text-anchor="end" font-size="10.5" fill="#5a5a5a" stroke="#5a5a5a" stroke-width="0.3" textLength="10.2" lengthAdjust="spacingAndGlyphs">20</text>
<line x1="410.6" y1="923.74" x2="417.6" y2="923.74" stroke="#3a3a3a" stroke-width="1.3"/>
<text x="408.2" y="927.14" text-anchor="end" font-size="10.5" fill="#5a5a5a" stroke="#5a5a5a" stroke-width="0.3" textLength="10.2" lengthAdjust="spacingAndGlyphs">40</text>
<line x1="410.6" y1="889.96" x2="417.6" y2="889.96" stroke="#3a3a3a" stroke-width="1.3"/>
<text x="408.2" y="893.36" text-anchor="end" font-size="10.5" fill="#5a5a5a" stroke="#5a5a5a" stroke-width="0.3" textLength="10.2" lengthAdjust="spacingAndGlyphs">60</text>
<line x1="410.6" y1="856.18" x2="417.6" y2="856.18" stroke="#3a3a3a" stroke-width="1.3"/>
<text x="408.2" y="859.58" text-anchor="end" font-size="10.5" fill="#5a5a5a" stroke="#5a5a5a" stroke-width="0.3" textLength="10.2" lengthAdjust="spacingAndGlyphs">80</text>
<line x1="410.6" y1="822.4" x2="417.6" y2="822.4" stroke="#3a3a3a" stroke-width="1.3"/>
<text x="408.2" y="825.8" text-anchor="end" font-size="10.5" fill="#5a5a5a" stroke="#5a5a5a" stroke-width="0.3" textLength="14.8" lengthAdjust="spacingAndGlyphs">100</text>
<line x1="438.75" y1="991.3" x2="438.75" y2="994.9" stroke="#3a3a3a" stroke-width="1.3"/>
<line x1="459.9" y1="991.3" x2="459.9" y2="997.3" stroke="#3a3a3a" stroke-width="1.3"/>
<line x1="481.05" y1="991.3" x2="481.05" y2="994.9" stroke="#3a3a3a" stroke-width="1.3"/>
<line x1="502.2" y1="991.3" x2="502.2" y2="997.3" stroke="#3a3a3a" stroke-width="1.3"/>
<line x1="523.35" y1="991.3" x2="523.35" y2="994.9" stroke="#3a3a3a" stroke-width="1.3"/>
<line x1="544.5" y1="991.3" x2="544.5" y2="997.3" stroke="#3a3a3a" stroke-width="1.3"/>
<line x1="565.65" y1="991.3" x2="565.65" y2="994.9" stroke="#3a3a3a" stroke-width="1.3"/>
<line x1="586.8" y1="991.3" x2="586.8" y2="997.3" stroke="#3a3a3a" stroke-width="1.3"/>
<line x1="607.95" y1="991.3" x2="607.95" y2="994.9" stroke="#3a3a3a" stroke-width="1.3"/>
<line x1="629.1" y1="991.3" x2="629.1" y2="997.3" stroke="#3a3a3a" stroke-width="1.3"/>
<line x1="650.25" y1="991.3" x2="650.25" y2="994.9" stroke="#3a3a3a" stroke-width="1.3"/>
<line x1="671.4" y1="991.3" x2="671.4" y2="997.3" stroke="#3a3a3a" stroke-width="1.3"/>
<text x="417.6" y="1009.8" text-anchor="middle" font-size="10.5" fill="#5a5a5a" stroke="#5a5a5a" stroke-width="0.3" textLength="13" lengthAdjust="spacingAndGlyphs">0.0</text>
<text x="459.9" y="1009.8" text-anchor="middle" font-size="10.5" fill="#5a5a5a" stroke="#5a5a5a" stroke-width="0.3" textLength="13" lengthAdjust="spacingAndGlyphs">0.1</text>
<text x="502.2" y="1009.8" text-anchor="middle" font-size="10.5" fill="#5a5a5a" stroke="#5a5a5a" stroke-width="0.3" textLength="13" lengthAdjust="spacingAndGlyphs">0.2</text>
<text x="544.5" y="1009.8" text-anchor="middle" font-size="10.5" fill="#5a5a5a" stroke="#5a5a5a" stroke-width="0.3" textLength="13" lengthAdjust="spacingAndGlyphs">0.3</text>
<text x="586.8" y="1009.8" text-anchor="middle" font-size="10.5" fill="#5a5a5a" stroke="#5a5a5a" stroke-width="0.3" textLength="13" lengthAdjust="spacingAndGlyphs">0.4</text>
<text x="629.1" y="1009.8" text-anchor="middle" font-size="10.5" fill="#5a5a5a" stroke="#5a5a5a" stroke-width="0.3" textLength="13" lengthAdjust="spacingAndGlyphs">0.5</text>
<text x="671.4" y="1009.8" text-anchor="middle" font-size="10.5" fill="#5a5a5a" stroke="#5a5a5a" stroke-width="0.3" textLength="13" lengthAdjust="spacingAndGlyphs">0.6</text>
<line x1="447" y1="950.7" x2="475.1" y2="950.7" stroke="#111" stroke-width="1.8" stroke-dasharray="4.2 3.9"/>
<line x1="449" y1="938" x2="478" y2="902" stroke="#111" stroke-width="1.9" stroke-dasharray="1.6 3.7"/>
<line x1="460.1" y1="932.3" x2="541.6" y2="864.9" stroke="#111" stroke-width="1.8" stroke-dasharray="3.8 4.2 1.6 3.4 1.6 4.4"/>
<line x1="461" y1="929.7" x2="632.5" y2="863.1" stroke="#111" stroke-width="1.9"/>
<path d="M544.5 861.1L547.25 866.4L541.75 866.4Z" fill="#858585" stroke="#1a1a1a" stroke-width="1.3" stroke-linejoin="round"/>
<path d="M493.5 889.3L496.25 894.6L490.75 894.6Z" fill="#858585" stroke="#1a1a1a" stroke-width="1.3" stroke-linejoin="round"/>
<path d="M523.2 889.1L525.95 894.4L520.45 894.4Z" fill="#858585" stroke="#1a1a1a" stroke-width="1.3" stroke-linejoin="round"/>
<path d="M464.3 903.3L467.05 908.6L461.55 908.6Z" fill="#858585" stroke="#1a1a1a" stroke-width="1.3" stroke-linejoin="round"/>
<path d="M468.3 903.3L471.05 908.6L465.55 908.6Z" fill="#858585" stroke="#1a1a1a" stroke-width="1.3" stroke-linejoin="round"/>
<path d="M477 900.1L479.75 905.4L474.25 905.4Z" fill="#858585" stroke="#1a1a1a" stroke-width="1.3" stroke-linejoin="round"/>
<path d="M451.4 924.3L454.15 929.6L448.65 929.6Z" fill="#858585" stroke="#1a1a1a" stroke-width="1.3" stroke-linejoin="round"/>
<path d="M460.1 932.1L462.85 937.4L457.35 937.4Z" fill="#858585" stroke="#1a1a1a" stroke-width="1.3" stroke-linejoin="round"/>
<path d="M451.8 960.9L454.55 966.2L449.05 966.2Z" fill="#858585" stroke="#1a1a1a" stroke-width="1.3" stroke-linejoin="round"/>
<rect x="465.75" y="867.85" width="4.7" height="4.7" fill="#b4b4b4" stroke="#2a2a2a" stroke-width="1.3"/>
<rect x="465.75" y="889.45" width="4.7" height="4.7" fill="#b4b4b4" stroke="#2a2a2a" stroke-width="1.3"/>
<rect x="457.55" y="892.15" width="4.7" height="4.7" fill="#b4b4b4" stroke="#2a2a2a" stroke-width="1.3"/>
<rect x="449.15" y="912.05" width="4.7" height="4.7" fill="#b4b4b4" stroke="#2a2a2a" stroke-width="1.3"/>
<rect x="449.15" y="919.25" width="4.7" height="4.7" fill="#b4b4b4" stroke="#2a2a2a" stroke-width="1.3"/>
<rect x="457.65" y="918.45" width="4.7" height="4.7" fill="#b4b4b4" stroke="#2a2a2a" stroke-width="1.3"/>
<rect x="440.65" y="929.15" width="4.7" height="4.7" fill="#b4b4b4" stroke="#2a2a2a" stroke-width="1.3"/>
<rect x="465.65" y="934.05" width="4.7" height="4.7" fill="#b4b4b4" stroke="#2a2a2a" stroke-width="1.3"/>
<rect x="474.45" y="930.35" width="4.7" height="4.7" fill="#b4b4b4" stroke="#2a2a2a" stroke-width="1.3"/>
<rect x="453.15" y="939.25" width="4.7" height="4.7" fill="#b4b4b4" stroke="#2a2a2a" stroke-width="1.3"/>
<rect x="444.75" y="942.65" width="4.7" height="4.7" fill="#b4b4b4" stroke="#2a2a2a" stroke-width="1.3"/>
<rect x="431.65" y="951.15" width="4.7" height="4.7" fill="#b4b4b4" stroke="#2a2a2a" stroke-width="1.3"/>
<rect x="440.55" y="955.65" width="4.7" height="4.7" fill="#b4b4b4" stroke="#2a2a2a" stroke-width="1.3"/>
<rect x="440.45" y="968.35" width="4.7" height="4.7" fill="#b4b4b4" stroke="#2a2a2a" stroke-width="1.3"/>
<circle cx="451.3" cy="899.6" r="2.7" fill="#e0e0e0" stroke="#404040" stroke-width="1.3"/>
<circle cx="447.2" cy="923" r="2.7" fill="#e0e0e0" stroke="#404040" stroke-width="1.3"/>
<circle cx="477" cy="928.3" r="2.7" fill="#e0e0e0" stroke="#404040" stroke-width="1.3"/>
<circle cx="451.5" cy="938.7" r="2.7" fill="#e0e0e0" stroke="#404040" stroke-width="1.3"/>
<circle cx="455.4" cy="939.2" r="2.7" fill="#e0e0e0" stroke="#404040" stroke-width="1.3"/>
<circle cx="462.1" cy="932.4" r="2.7" fill="#e0e0e0" stroke="#404040" stroke-width="1.3"/>
<circle cx="447" cy="947.4" r="2.7" fill="#e0e0e0" stroke="#404040" stroke-width="1.3"/>
<circle cx="447" cy="952.8" r="2.7" fill="#e0e0e0" stroke="#404040" stroke-width="1.3"/>
<circle cx="447" cy="958.5" r="2.7" fill="#e0e0e0" stroke="#404040" stroke-width="1.3"/>
<circle cx="438.8" cy="949.7" r="2.7" fill="#e0e0e0" stroke="#404040" stroke-width="1.3"/>
<circle cx="455.6" cy="961.3" r="2.7" fill="#e0e0e0" stroke="#404040" stroke-width="1.3"/>
<circle cx="442.9" cy="964.3" r="2.7" fill="#e0e0e0" stroke="#404040" stroke-width="1.3"/>
<circle cx="447" cy="966.5" r="2.7" fill="#e0e0e0" stroke="#404040" stroke-width="1.3"/>
<circle cx="438.7" cy="974.6" r="2.7" fill="#e0e0e0" stroke="#404040" stroke-width="1.3"/>
<circle cx="447" cy="975" r="2.7" fill="#e0e0e0" stroke="#404040" stroke-width="1.3"/>
<circle cx="447" cy="981.7" r="2.7" fill="#e0e0e0" stroke="#404040" stroke-width="1.3"/>
<path d="M485.2 882.95L487.85 885.6L485.2 888.25L482.55 885.6Z" fill="#000"/>
<path d="M515 882.35L517.65 885L515 887.65L512.35 885Z" fill="#000"/>
<path d="M536 892.55L538.65 895.2L536 897.85L533.35 895.2Z" fill="#000"/>
<path d="M459.8 902.05L462.45 904.7L459.8 907.35L457.15 904.7Z" fill="#000"/>
<path d="M476.9 905.15L479.55 907.8L476.9 910.45L474.25 907.8Z" fill="#000"/>
<path d="M497.8 911.55L500.45 914.2L497.8 916.85L495.15 914.2Z" fill="#000"/>
<path d="M502.2 907.75L504.85 910.4L502.2 913.05L499.55 910.4Z" fill="#000"/>
<path d="M506.6 905.65L509.25 908.3L506.6 910.95L503.95 908.3Z" fill="#000"/>
<path d="M510.6 912.15L513.25 914.8L510.6 917.45L507.95 914.8Z" fill="#000"/>
<path d="M481.1 936.85L483.75 939.5L481.1 942.15L478.45 939.5Z" fill="#000"/>
<path d="M476.9 945.35L479.55 948L476.9 950.65L474.25 948Z" fill="#000"/>
<path d="M481 988.65L483.65 991.3L481 993.95L478.35 991.3Z" fill="#000"/>
<path d="M573.8 883.25L576.45 885.9L573.8 888.55L571.15 885.9Z" fill="#000"/>
<path d="M633.4 866.25L636.05 868.9L633.4 871.55L630.75 868.9Z" fill="#000"/>
<text x="359.3" y="814.38" font-size="21.5" fill="#111" stroke="#111" stroke-width="0.35" textLength="25.4" lengthAdjust="spacingAndGlyphs">(h)</text>
<text x="431.1" y="831.8" font-size="12.5" font-weight="bold" fill="#111" stroke="#111" stroke-width="0.4" textLength="15.6" lengthAdjust="spacingAndGlyphs">SF</text>
<text transform="translate(385.7,918.6) rotate(-90)" x="0" y="0" text-anchor="middle" font-size="13" font-weight="bold" fill="#111" stroke="#111" stroke-width="0.3" textLength="59.6" lengthAdjust="spacingAndGlyphs"><tspan font-style="italic">SMEs</tspan> (%)</text>
<text x="501.3" y="1026" font-size="12.8" font-weight="bold" fill="#1a1a1a" stroke="#1a1a1a" stroke-width="0.3" textLength="85.7" lengthAdjust="spacingAndGlyphs">Hemolysis (%)</text>
<text x="501.8" y="847.3" font-size="14.8" fill="#1a1a1a" stroke="#1a1a1a" stroke-width="0.2" textLength="155" lengthAdjust="spacingAndGlyphs">*<tspan font-style="italic">R</tspan><tspan font-size="10" dy="-5.5">2</tspan><tspan dy="5.5"> (Day 28) = 0.7346</tspan></text>
<line x1="598.9" y1="7.0" x2="602.4" y2="7.0" stroke="#111" stroke-width="1.7"/>
<rect x="614" y="6.2" width="1.6" height="1.6" fill="#111"/>
<circle cx="606.9" cy="7" r="2.29" fill="#e0e0e0" stroke="#404040" stroke-width="1.3"/>
<text x="625.6" y="11.4" font-size="12.5" fill="#222" stroke="#222" stroke-width="0.2">Day 5</text>
<rect x="598.3" y="23.3" width="1.6" height="1.6" fill="#111"/>
<rect x="612" y="23.3" width="1.6" height="1.6" fill="#111"/>
<rect x="604.9" y="22.1" width="4" height="4" fill="#b4b4b4" stroke="#2a2a2a" stroke-width="1.3"/>
<text x="625.6" y="27.7" font-size="12.5" fill="#222" stroke="#222" stroke-width="0.2">Day 14</text>
<line x1="598.9" y1="45.0" x2="602.4" y2="45.0" stroke="#111" stroke-width="1.7"/>
<rect x="611" y="44.2" width="1.6" height="1.6" fill="#111"/>
<path d="M606.9 42.53L609.24 47.04L604.56 47.04Z" fill="#858585" stroke="#1a1a1a" stroke-width="1.3" stroke-linejoin="round"/>
<text x="625.6" y="48.5" font-size="12.5" fill="#222" stroke="#222" stroke-width="0.2">Day 28</text>
<line x1="598.9" y1="65.7" x2="615.4" y2="65.7" stroke="#111" stroke-width="1.9"/>
<path d="M606.9 63.45L609.15 65.7L606.9 67.95L604.65 65.7Z" fill="#000"/>
<text x="625.6" y="69.3" font-size="12.5" fill="#222" stroke="#222" stroke-width="0.2">Day 42</text>
</svg>
</body></html>
